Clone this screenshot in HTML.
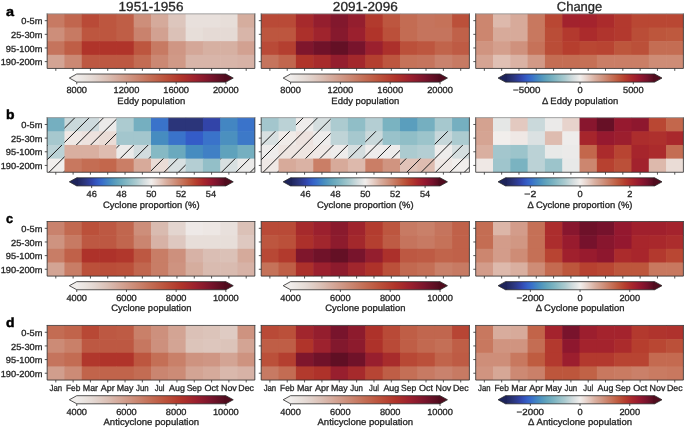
<!DOCTYPE html>
<html><head><meta charset="utf-8"><style>html,body{margin:0;padding:0;background:#fff;width:685px;height:428px;overflow:hidden}</style></head>
<body>
<svg width="685" height="428" viewBox="0 0 685 428" text-rendering="geometricPrecision" style="position:absolute;left:0;top:0;will-change:transform;font-family:'Liberation Sans',sans-serif">
<defs><linearGradient id="ga1" x1="76.74" x2="225.86" y1="0" y2="0" gradientUnits="userSpaceOnUse"><stop offset="0.000" stop-color="#f0edeb"/><stop offset="0.025" stop-color="#ede8e6"/><stop offset="0.050" stop-color="#eae4e0"/><stop offset="0.075" stop-color="#e8dfda"/><stop offset="0.100" stop-color="#e5dad5"/><stop offset="0.125" stop-color="#e2d4ce"/><stop offset="0.150" stop-color="#e0cec6"/><stop offset="0.175" stop-color="#dec7be"/><stop offset="0.200" stop-color="#dbc1b7"/><stop offset="0.225" stop-color="#d9baae"/><stop offset="0.250" stop-color="#d7b2a6"/><stop offset="0.275" stop-color="#d5ab9d"/><stop offset="0.300" stop-color="#d3a494"/><stop offset="0.325" stop-color="#d19d8c"/><stop offset="0.350" stop-color="#cf9684"/><stop offset="0.375" stop-color="#cd8f7b"/><stop offset="0.400" stop-color="#cb8873"/><stop offset="0.425" stop-color="#c9816b"/><stop offset="0.450" stop-color="#c77a63"/><stop offset="0.475" stop-color="#c5735b"/><stop offset="0.500" stop-color="#c36c53"/><stop offset="0.525" stop-color="#c1654d"/><stop offset="0.550" stop-color="#bf5e46"/><stop offset="0.575" stop-color="#bd5740"/><stop offset="0.600" stop-color="#bb503a"/><stop offset="0.625" stop-color="#b84936"/><stop offset="0.650" stop-color="#b64232"/><stop offset="0.675" stop-color="#b33b2e"/><stop offset="0.700" stop-color="#b0342a"/><stop offset="0.725" stop-color="#ab2f2b"/><stop offset="0.750" stop-color="#a62a2c"/><stop offset="0.775" stop-color="#a0252d"/><stop offset="0.800" stop-color="#9b202e"/><stop offset="0.825" stop-color="#921d2e"/><stop offset="0.850" stop-color="#8a1a2d"/><stop offset="0.875" stop-color="#81172c"/><stop offset="0.900" stop-color="#78142c"/><stop offset="0.925" stop-color="#6e1228"/><stop offset="0.950" stop-color="#641025"/><stop offset="0.975" stop-color="#5a0e22"/><stop offset="1.000" stop-color="#500c1e"/></linearGradient><linearGradient id="ga2" x1="290.56" x2="440.04" y1="0" y2="0" gradientUnits="userSpaceOnUse"><stop offset="0.000" stop-color="#f0edeb"/><stop offset="0.025" stop-color="#ede8e6"/><stop offset="0.050" stop-color="#eae4e0"/><stop offset="0.075" stop-color="#e8dfda"/><stop offset="0.100" stop-color="#e5dad5"/><stop offset="0.125" stop-color="#e2d4ce"/><stop offset="0.150" stop-color="#e0cec6"/><stop offset="0.175" stop-color="#dec7be"/><stop offset="0.200" stop-color="#dbc1b7"/><stop offset="0.225" stop-color="#d9baae"/><stop offset="0.250" stop-color="#d7b2a6"/><stop offset="0.275" stop-color="#d5ab9d"/><stop offset="0.300" stop-color="#d3a494"/><stop offset="0.325" stop-color="#d19d8c"/><stop offset="0.350" stop-color="#cf9684"/><stop offset="0.375" stop-color="#cd8f7b"/><stop offset="0.400" stop-color="#cb8873"/><stop offset="0.425" stop-color="#c9816b"/><stop offset="0.450" stop-color="#c77a63"/><stop offset="0.475" stop-color="#c5735b"/><stop offset="0.500" stop-color="#c36c53"/><stop offset="0.525" stop-color="#c1654d"/><stop offset="0.550" stop-color="#bf5e46"/><stop offset="0.575" stop-color="#bd5740"/><stop offset="0.600" stop-color="#bb503a"/><stop offset="0.625" stop-color="#b84936"/><stop offset="0.650" stop-color="#b64232"/><stop offset="0.675" stop-color="#b33b2e"/><stop offset="0.700" stop-color="#b0342a"/><stop offset="0.725" stop-color="#ab2f2b"/><stop offset="0.750" stop-color="#a62a2c"/><stop offset="0.775" stop-color="#a0252d"/><stop offset="0.800" stop-color="#9b202e"/><stop offset="0.825" stop-color="#921d2e"/><stop offset="0.850" stop-color="#8a1a2d"/><stop offset="0.875" stop-color="#81172c"/><stop offset="0.900" stop-color="#78142c"/><stop offset="0.925" stop-color="#6e1228"/><stop offset="0.950" stop-color="#641025"/><stop offset="0.975" stop-color="#5a0e22"/><stop offset="1.000" stop-color="#500c1e"/></linearGradient><linearGradient id="ga3" x1="505.49" x2="654.61" y1="0" y2="0" gradientUnits="userSpaceOnUse"><stop offset="0.000" stop-color="#1e245a"/><stop offset="0.025" stop-color="#242c6a"/><stop offset="0.050" stop-color="#2b357a"/><stop offset="0.075" stop-color="#2e3c91"/><stop offset="0.100" stop-color="#3244a8"/><stop offset="0.125" stop-color="#3353bc"/><stop offset="0.150" stop-color="#3662c8"/><stop offset="0.175" stop-color="#3970ca"/><stop offset="0.200" stop-color="#4080c5"/><stop offset="0.225" stop-color="#488ec0"/><stop offset="0.250" stop-color="#5599be"/><stop offset="0.275" stop-color="#62a4bc"/><stop offset="0.300" stop-color="#6facbf"/><stop offset="0.325" stop-color="#7db4c2"/><stop offset="0.350" stop-color="#8dbcc6"/><stop offset="0.375" stop-color="#9cc4cb"/><stop offset="0.400" stop-color="#accbd0"/><stop offset="0.425" stop-color="#bfd4d7"/><stop offset="0.450" stop-color="#d2dcde"/><stop offset="0.475" stop-color="#e1e5e5"/><stop offset="0.500" stop-color="#f1eeec"/><stop offset="0.525" stop-color="#ecdfda"/><stop offset="0.550" stop-color="#e6d0c8"/><stop offset="0.575" stop-color="#e0c0b4"/><stop offset="0.600" stop-color="#d9afa0"/><stop offset="0.625" stop-color="#d4a290"/><stop offset="0.650" stop-color="#d09480"/><stop offset="0.675" stop-color="#cc866f"/><stop offset="0.700" stop-color="#c8785f"/><stop offset="0.725" stop-color="#c46a50"/><stop offset="0.750" stop-color="#bf5c40"/><stop offset="0.775" stop-color="#ba4d37"/><stop offset="0.800" stop-color="#b63e2e"/><stop offset="0.825" stop-color="#af322d"/><stop offset="0.850" stop-color="#a8262c"/><stop offset="0.875" stop-color="#9e1f2e"/><stop offset="0.900" stop-color="#94182f"/><stop offset="0.925" stop-color="#85152e"/><stop offset="0.950" stop-color="#76122c"/><stop offset="0.975" stop-color="#630f25"/><stop offset="1.000" stop-color="#500c1e"/></linearGradient><clipPath id="clipb1"><rect x="64.46" y="117.65" width="17.32" height="13.66"/><rect x="81.77" y="117.65" width="17.32" height="13.66"/><rect x="99.07" y="117.65" width="17.32" height="13.66"/><rect x="64.46" y="131.30" width="17.32" height="13.66"/><rect x="81.77" y="131.30" width="17.32" height="13.66"/><rect x="99.07" y="131.30" width="17.32" height="13.66"/><rect x="47.15" y="144.95" width="17.32" height="13.66"/><rect x="116.38" y="144.95" width="17.32" height="13.66"/><rect x="133.69" y="144.95" width="17.32" height="13.66"/><rect x="47.15" y="158.60" width="17.32" height="13.66"/><rect x="151.00" y="158.60" width="17.32" height="13.66"/><rect x="168.31" y="158.60" width="17.32" height="13.66"/><rect x="220.23" y="158.60" width="17.32" height="13.66"/><rect x="237.54" y="158.60" width="17.32" height="13.66"/></clipPath><linearGradient id="gb1" x1="76.74" x2="225.86" y1="0" y2="0" gradientUnits="userSpaceOnUse"><stop offset="0.000" stop-color="#1e245a"/><stop offset="0.025" stop-color="#242c6a"/><stop offset="0.050" stop-color="#2b357a"/><stop offset="0.075" stop-color="#2e3c91"/><stop offset="0.100" stop-color="#3244a8"/><stop offset="0.125" stop-color="#3353bc"/><stop offset="0.150" stop-color="#3662c8"/><stop offset="0.175" stop-color="#3970ca"/><stop offset="0.200" stop-color="#4080c5"/><stop offset="0.225" stop-color="#488ec0"/><stop offset="0.250" stop-color="#5599be"/><stop offset="0.275" stop-color="#62a4bc"/><stop offset="0.300" stop-color="#6facbf"/><stop offset="0.325" stop-color="#7db4c2"/><stop offset="0.350" stop-color="#8dbcc6"/><stop offset="0.375" stop-color="#9cc4cb"/><stop offset="0.400" stop-color="#accbd0"/><stop offset="0.425" stop-color="#bfd4d7"/><stop offset="0.450" stop-color="#d2dcde"/><stop offset="0.475" stop-color="#e1e5e5"/><stop offset="0.500" stop-color="#f1eeec"/><stop offset="0.525" stop-color="#ecdfda"/><stop offset="0.550" stop-color="#e6d0c8"/><stop offset="0.575" stop-color="#e0c0b4"/><stop offset="0.600" stop-color="#d9afa0"/><stop offset="0.625" stop-color="#d4a290"/><stop offset="0.650" stop-color="#d09480"/><stop offset="0.675" stop-color="#cc866f"/><stop offset="0.700" stop-color="#c8785f"/><stop offset="0.725" stop-color="#c46a50"/><stop offset="0.750" stop-color="#bf5c40"/><stop offset="0.775" stop-color="#ba4d37"/><stop offset="0.800" stop-color="#b63e2e"/><stop offset="0.825" stop-color="#af322d"/><stop offset="0.850" stop-color="#a8262c"/><stop offset="0.875" stop-color="#9e1f2e"/><stop offset="0.900" stop-color="#94182f"/><stop offset="0.925" stop-color="#85152e"/><stop offset="0.950" stop-color="#76122c"/><stop offset="0.975" stop-color="#630f25"/><stop offset="1.000" stop-color="#500c1e"/></linearGradient><clipPath id="clipb2"><rect x="295.90" y="117.65" width="17.36" height="13.66"/><rect x="313.25" y="117.65" width="17.36" height="13.66"/><rect x="261.20" y="131.30" width="17.36" height="13.66"/><rect x="278.55" y="131.30" width="17.36" height="13.66"/><rect x="295.90" y="131.30" width="17.36" height="13.66"/><rect x="313.25" y="131.30" width="17.36" height="13.66"/><rect x="365.30" y="131.30" width="17.36" height="13.66"/><rect x="434.70" y="131.30" width="17.36" height="13.66"/><rect x="261.20" y="144.95" width="17.36" height="13.66"/><rect x="278.55" y="144.95" width="17.36" height="13.66"/><rect x="295.90" y="144.95" width="17.36" height="13.66"/><rect x="313.25" y="144.95" width="17.36" height="13.66"/><rect x="330.60" y="144.95" width="17.36" height="13.66"/><rect x="347.95" y="144.95" width="17.36" height="13.66"/><rect x="365.30" y="144.95" width="17.36" height="13.66"/><rect x="382.65" y="144.95" width="17.36" height="13.66"/><rect x="434.70" y="144.95" width="17.36" height="13.66"/><rect x="452.05" y="144.95" width="17.36" height="13.66"/><rect x="261.20" y="158.60" width="17.36" height="13.66"/><rect x="400.00" y="158.60" width="17.36" height="13.66"/><rect x="417.35" y="158.60" width="17.36" height="13.66"/><rect x="434.70" y="158.60" width="17.36" height="13.66"/><rect x="452.05" y="158.60" width="17.36" height="13.66"/></clipPath><linearGradient id="gb2" x1="290.56" x2="440.04" y1="0" y2="0" gradientUnits="userSpaceOnUse"><stop offset="0.000" stop-color="#1e245a"/><stop offset="0.025" stop-color="#242c6a"/><stop offset="0.050" stop-color="#2b357a"/><stop offset="0.075" stop-color="#2e3c91"/><stop offset="0.100" stop-color="#3244a8"/><stop offset="0.125" stop-color="#3353bc"/><stop offset="0.150" stop-color="#3662c8"/><stop offset="0.175" stop-color="#3970ca"/><stop offset="0.200" stop-color="#4080c5"/><stop offset="0.225" stop-color="#488ec0"/><stop offset="0.250" stop-color="#5599be"/><stop offset="0.275" stop-color="#62a4bc"/><stop offset="0.300" stop-color="#6facbf"/><stop offset="0.325" stop-color="#7db4c2"/><stop offset="0.350" stop-color="#8dbcc6"/><stop offset="0.375" stop-color="#9cc4cb"/><stop offset="0.400" stop-color="#accbd0"/><stop offset="0.425" stop-color="#bfd4d7"/><stop offset="0.450" stop-color="#d2dcde"/><stop offset="0.475" stop-color="#e1e5e5"/><stop offset="0.500" stop-color="#f1eeec"/><stop offset="0.525" stop-color="#ecdfda"/><stop offset="0.550" stop-color="#e6d0c8"/><stop offset="0.575" stop-color="#e0c0b4"/><stop offset="0.600" stop-color="#d9afa0"/><stop offset="0.625" stop-color="#d4a290"/><stop offset="0.650" stop-color="#d09480"/><stop offset="0.675" stop-color="#cc866f"/><stop offset="0.700" stop-color="#c8785f"/><stop offset="0.725" stop-color="#c46a50"/><stop offset="0.750" stop-color="#bf5c40"/><stop offset="0.775" stop-color="#ba4d37"/><stop offset="0.800" stop-color="#b63e2e"/><stop offset="0.825" stop-color="#af322d"/><stop offset="0.850" stop-color="#a8262c"/><stop offset="0.875" stop-color="#9e1f2e"/><stop offset="0.900" stop-color="#94182f"/><stop offset="0.925" stop-color="#85152e"/><stop offset="0.950" stop-color="#76122c"/><stop offset="0.975" stop-color="#630f25"/><stop offset="1.000" stop-color="#500c1e"/></linearGradient><linearGradient id="gb3" x1="505.49" x2="654.61" y1="0" y2="0" gradientUnits="userSpaceOnUse"><stop offset="0.000" stop-color="#1e245a"/><stop offset="0.025" stop-color="#242c6a"/><stop offset="0.050" stop-color="#2b357a"/><stop offset="0.075" stop-color="#2e3c91"/><stop offset="0.100" stop-color="#3244a8"/><stop offset="0.125" stop-color="#3353bc"/><stop offset="0.150" stop-color="#3662c8"/><stop offset="0.175" stop-color="#3970ca"/><stop offset="0.200" stop-color="#4080c5"/><stop offset="0.225" stop-color="#488ec0"/><stop offset="0.250" stop-color="#5599be"/><stop offset="0.275" stop-color="#62a4bc"/><stop offset="0.300" stop-color="#6facbf"/><stop offset="0.325" stop-color="#7db4c2"/><stop offset="0.350" stop-color="#8dbcc6"/><stop offset="0.375" stop-color="#9cc4cb"/><stop offset="0.400" stop-color="#accbd0"/><stop offset="0.425" stop-color="#bfd4d7"/><stop offset="0.450" stop-color="#d2dcde"/><stop offset="0.475" stop-color="#e1e5e5"/><stop offset="0.500" stop-color="#f1eeec"/><stop offset="0.525" stop-color="#ecdfda"/><stop offset="0.550" stop-color="#e6d0c8"/><stop offset="0.575" stop-color="#e0c0b4"/><stop offset="0.600" stop-color="#d9afa0"/><stop offset="0.625" stop-color="#d4a290"/><stop offset="0.650" stop-color="#d09480"/><stop offset="0.675" stop-color="#cc866f"/><stop offset="0.700" stop-color="#c8785f"/><stop offset="0.725" stop-color="#c46a50"/><stop offset="0.750" stop-color="#bf5c40"/><stop offset="0.775" stop-color="#ba4d37"/><stop offset="0.800" stop-color="#b63e2e"/><stop offset="0.825" stop-color="#af322d"/><stop offset="0.850" stop-color="#a8262c"/><stop offset="0.875" stop-color="#9e1f2e"/><stop offset="0.900" stop-color="#94182f"/><stop offset="0.925" stop-color="#85152e"/><stop offset="0.950" stop-color="#76122c"/><stop offset="0.975" stop-color="#630f25"/><stop offset="1.000" stop-color="#500c1e"/></linearGradient><linearGradient id="gc1" x1="76.74" x2="225.86" y1="0" y2="0" gradientUnits="userSpaceOnUse"><stop offset="0.000" stop-color="#f0edeb"/><stop offset="0.025" stop-color="#ede8e6"/><stop offset="0.050" stop-color="#eae4e0"/><stop offset="0.075" stop-color="#e8dfda"/><stop offset="0.100" stop-color="#e5dad5"/><stop offset="0.125" stop-color="#e2d4ce"/><stop offset="0.150" stop-color="#e0cec6"/><stop offset="0.175" stop-color="#dec7be"/><stop offset="0.200" stop-color="#dbc1b7"/><stop offset="0.225" stop-color="#d9baae"/><stop offset="0.250" stop-color="#d7b2a6"/><stop offset="0.275" stop-color="#d5ab9d"/><stop offset="0.300" stop-color="#d3a494"/><stop offset="0.325" stop-color="#d19d8c"/><stop offset="0.350" stop-color="#cf9684"/><stop offset="0.375" stop-color="#cd8f7b"/><stop offset="0.400" stop-color="#cb8873"/><stop offset="0.425" stop-color="#c9816b"/><stop offset="0.450" stop-color="#c77a63"/><stop offset="0.475" stop-color="#c5735b"/><stop offset="0.500" stop-color="#c36c53"/><stop offset="0.525" stop-color="#c1654d"/><stop offset="0.550" stop-color="#bf5e46"/><stop offset="0.575" stop-color="#bd5740"/><stop offset="0.600" stop-color="#bb503a"/><stop offset="0.625" stop-color="#b84936"/><stop offset="0.650" stop-color="#b64232"/><stop offset="0.675" stop-color="#b33b2e"/><stop offset="0.700" stop-color="#b0342a"/><stop offset="0.725" stop-color="#ab2f2b"/><stop offset="0.750" stop-color="#a62a2c"/><stop offset="0.775" stop-color="#a0252d"/><stop offset="0.800" stop-color="#9b202e"/><stop offset="0.825" stop-color="#921d2e"/><stop offset="0.850" stop-color="#8a1a2d"/><stop offset="0.875" stop-color="#81172c"/><stop offset="0.900" stop-color="#78142c"/><stop offset="0.925" stop-color="#6e1228"/><stop offset="0.950" stop-color="#641025"/><stop offset="0.975" stop-color="#5a0e22"/><stop offset="1.000" stop-color="#500c1e"/></linearGradient><linearGradient id="gc2" x1="290.56" x2="440.04" y1="0" y2="0" gradientUnits="userSpaceOnUse"><stop offset="0.000" stop-color="#f0edeb"/><stop offset="0.025" stop-color="#ede8e6"/><stop offset="0.050" stop-color="#eae4e0"/><stop offset="0.075" stop-color="#e8dfda"/><stop offset="0.100" stop-color="#e5dad5"/><stop offset="0.125" stop-color="#e2d4ce"/><stop offset="0.150" stop-color="#e0cec6"/><stop offset="0.175" stop-color="#dec7be"/><stop offset="0.200" stop-color="#dbc1b7"/><stop offset="0.225" stop-color="#d9baae"/><stop offset="0.250" stop-color="#d7b2a6"/><stop offset="0.275" stop-color="#d5ab9d"/><stop offset="0.300" stop-color="#d3a494"/><stop offset="0.325" stop-color="#d19d8c"/><stop offset="0.350" stop-color="#cf9684"/><stop offset="0.375" stop-color="#cd8f7b"/><stop offset="0.400" stop-color="#cb8873"/><stop offset="0.425" stop-color="#c9816b"/><stop offset="0.450" stop-color="#c77a63"/><stop offset="0.475" stop-color="#c5735b"/><stop offset="0.500" stop-color="#c36c53"/><stop offset="0.525" stop-color="#c1654d"/><stop offset="0.550" stop-color="#bf5e46"/><stop offset="0.575" stop-color="#bd5740"/><stop offset="0.600" stop-color="#bb503a"/><stop offset="0.625" stop-color="#b84936"/><stop offset="0.650" stop-color="#b64232"/><stop offset="0.675" stop-color="#b33b2e"/><stop offset="0.700" stop-color="#b0342a"/><stop offset="0.725" stop-color="#ab2f2b"/><stop offset="0.750" stop-color="#a62a2c"/><stop offset="0.775" stop-color="#a0252d"/><stop offset="0.800" stop-color="#9b202e"/><stop offset="0.825" stop-color="#921d2e"/><stop offset="0.850" stop-color="#8a1a2d"/><stop offset="0.875" stop-color="#81172c"/><stop offset="0.900" stop-color="#78142c"/><stop offset="0.925" stop-color="#6e1228"/><stop offset="0.950" stop-color="#641025"/><stop offset="0.975" stop-color="#5a0e22"/><stop offset="1.000" stop-color="#500c1e"/></linearGradient><linearGradient id="gc3" x1="505.49" x2="654.61" y1="0" y2="0" gradientUnits="userSpaceOnUse"><stop offset="0.000" stop-color="#1e245a"/><stop offset="0.025" stop-color="#242c6a"/><stop offset="0.050" stop-color="#2b357a"/><stop offset="0.075" stop-color="#2e3c91"/><stop offset="0.100" stop-color="#3244a8"/><stop offset="0.125" stop-color="#3353bc"/><stop offset="0.150" stop-color="#3662c8"/><stop offset="0.175" stop-color="#3970ca"/><stop offset="0.200" stop-color="#4080c5"/><stop offset="0.225" stop-color="#488ec0"/><stop offset="0.250" stop-color="#5599be"/><stop offset="0.275" stop-color="#62a4bc"/><stop offset="0.300" stop-color="#6facbf"/><stop offset="0.325" stop-color="#7db4c2"/><stop offset="0.350" stop-color="#8dbcc6"/><stop offset="0.375" stop-color="#9cc4cb"/><stop offset="0.400" stop-color="#accbd0"/><stop offset="0.425" stop-color="#bfd4d7"/><stop offset="0.450" stop-color="#d2dcde"/><stop offset="0.475" stop-color="#e1e5e5"/><stop offset="0.500" stop-color="#f1eeec"/><stop offset="0.525" stop-color="#ecdfda"/><stop offset="0.550" stop-color="#e6d0c8"/><stop offset="0.575" stop-color="#e0c0b4"/><stop offset="0.600" stop-color="#d9afa0"/><stop offset="0.625" stop-color="#d4a290"/><stop offset="0.650" stop-color="#d09480"/><stop offset="0.675" stop-color="#cc866f"/><stop offset="0.700" stop-color="#c8785f"/><stop offset="0.725" stop-color="#c46a50"/><stop offset="0.750" stop-color="#bf5c40"/><stop offset="0.775" stop-color="#ba4d37"/><stop offset="0.800" stop-color="#b63e2e"/><stop offset="0.825" stop-color="#af322d"/><stop offset="0.850" stop-color="#a8262c"/><stop offset="0.875" stop-color="#9e1f2e"/><stop offset="0.900" stop-color="#94182f"/><stop offset="0.925" stop-color="#85152e"/><stop offset="0.950" stop-color="#76122c"/><stop offset="0.975" stop-color="#630f25"/><stop offset="1.000" stop-color="#500c1e"/></linearGradient><linearGradient id="gd1" x1="76.74" x2="225.86" y1="0" y2="0" gradientUnits="userSpaceOnUse"><stop offset="0.000" stop-color="#f0edeb"/><stop offset="0.025" stop-color="#ede8e6"/><stop offset="0.050" stop-color="#eae4e0"/><stop offset="0.075" stop-color="#e8dfda"/><stop offset="0.100" stop-color="#e5dad5"/><stop offset="0.125" stop-color="#e2d4ce"/><stop offset="0.150" stop-color="#e0cec6"/><stop offset="0.175" stop-color="#dec7be"/><stop offset="0.200" stop-color="#dbc1b7"/><stop offset="0.225" stop-color="#d9baae"/><stop offset="0.250" stop-color="#d7b2a6"/><stop offset="0.275" stop-color="#d5ab9d"/><stop offset="0.300" stop-color="#d3a494"/><stop offset="0.325" stop-color="#d19d8c"/><stop offset="0.350" stop-color="#cf9684"/><stop offset="0.375" stop-color="#cd8f7b"/><stop offset="0.400" stop-color="#cb8873"/><stop offset="0.425" stop-color="#c9816b"/><stop offset="0.450" stop-color="#c77a63"/><stop offset="0.475" stop-color="#c5735b"/><stop offset="0.500" stop-color="#c36c53"/><stop offset="0.525" stop-color="#c1654d"/><stop offset="0.550" stop-color="#bf5e46"/><stop offset="0.575" stop-color="#bd5740"/><stop offset="0.600" stop-color="#bb503a"/><stop offset="0.625" stop-color="#b84936"/><stop offset="0.650" stop-color="#b64232"/><stop offset="0.675" stop-color="#b33b2e"/><stop offset="0.700" stop-color="#b0342a"/><stop offset="0.725" stop-color="#ab2f2b"/><stop offset="0.750" stop-color="#a62a2c"/><stop offset="0.775" stop-color="#a0252d"/><stop offset="0.800" stop-color="#9b202e"/><stop offset="0.825" stop-color="#921d2e"/><stop offset="0.850" stop-color="#8a1a2d"/><stop offset="0.875" stop-color="#81172c"/><stop offset="0.900" stop-color="#78142c"/><stop offset="0.925" stop-color="#6e1228"/><stop offset="0.950" stop-color="#641025"/><stop offset="0.975" stop-color="#5a0e22"/><stop offset="1.000" stop-color="#500c1e"/></linearGradient><linearGradient id="gd2" x1="290.56" x2="440.04" y1="0" y2="0" gradientUnits="userSpaceOnUse"><stop offset="0.000" stop-color="#f0edeb"/><stop offset="0.025" stop-color="#ede8e6"/><stop offset="0.050" stop-color="#eae4e0"/><stop offset="0.075" stop-color="#e8dfda"/><stop offset="0.100" stop-color="#e5dad5"/><stop offset="0.125" stop-color="#e2d4ce"/><stop offset="0.150" stop-color="#e0cec6"/><stop offset="0.175" stop-color="#dec7be"/><stop offset="0.200" stop-color="#dbc1b7"/><stop offset="0.225" stop-color="#d9baae"/><stop offset="0.250" stop-color="#d7b2a6"/><stop offset="0.275" stop-color="#d5ab9d"/><stop offset="0.300" stop-color="#d3a494"/><stop offset="0.325" stop-color="#d19d8c"/><stop offset="0.350" stop-color="#cf9684"/><stop offset="0.375" stop-color="#cd8f7b"/><stop offset="0.400" stop-color="#cb8873"/><stop offset="0.425" stop-color="#c9816b"/><stop offset="0.450" stop-color="#c77a63"/><stop offset="0.475" stop-color="#c5735b"/><stop offset="0.500" stop-color="#c36c53"/><stop offset="0.525" stop-color="#c1654d"/><stop offset="0.550" stop-color="#bf5e46"/><stop offset="0.575" stop-color="#bd5740"/><stop offset="0.600" stop-color="#bb503a"/><stop offset="0.625" stop-color="#b84936"/><stop offset="0.650" stop-color="#b64232"/><stop offset="0.675" stop-color="#b33b2e"/><stop offset="0.700" stop-color="#b0342a"/><stop offset="0.725" stop-color="#ab2f2b"/><stop offset="0.750" stop-color="#a62a2c"/><stop offset="0.775" stop-color="#a0252d"/><stop offset="0.800" stop-color="#9b202e"/><stop offset="0.825" stop-color="#921d2e"/><stop offset="0.850" stop-color="#8a1a2d"/><stop offset="0.875" stop-color="#81172c"/><stop offset="0.900" stop-color="#78142c"/><stop offset="0.925" stop-color="#6e1228"/><stop offset="0.950" stop-color="#641025"/><stop offset="0.975" stop-color="#5a0e22"/><stop offset="1.000" stop-color="#500c1e"/></linearGradient><linearGradient id="gd3" x1="505.49" x2="654.61" y1="0" y2="0" gradientUnits="userSpaceOnUse"><stop offset="0.000" stop-color="#1e245a"/><stop offset="0.025" stop-color="#242c6a"/><stop offset="0.050" stop-color="#2b357a"/><stop offset="0.075" stop-color="#2e3c91"/><stop offset="0.100" stop-color="#3244a8"/><stop offset="0.125" stop-color="#3353bc"/><stop offset="0.150" stop-color="#3662c8"/><stop offset="0.175" stop-color="#3970ca"/><stop offset="0.200" stop-color="#4080c5"/><stop offset="0.225" stop-color="#488ec0"/><stop offset="0.250" stop-color="#5599be"/><stop offset="0.275" stop-color="#62a4bc"/><stop offset="0.300" stop-color="#6facbf"/><stop offset="0.325" stop-color="#7db4c2"/><stop offset="0.350" stop-color="#8dbcc6"/><stop offset="0.375" stop-color="#9cc4cb"/><stop offset="0.400" stop-color="#accbd0"/><stop offset="0.425" stop-color="#bfd4d7"/><stop offset="0.450" stop-color="#d2dcde"/><stop offset="0.475" stop-color="#e1e5e5"/><stop offset="0.500" stop-color="#f1eeec"/><stop offset="0.525" stop-color="#ecdfda"/><stop offset="0.550" stop-color="#e6d0c8"/><stop offset="0.575" stop-color="#e0c0b4"/><stop offset="0.600" stop-color="#d9afa0"/><stop offset="0.625" stop-color="#d4a290"/><stop offset="0.650" stop-color="#d09480"/><stop offset="0.675" stop-color="#cc866f"/><stop offset="0.700" stop-color="#c8785f"/><stop offset="0.725" stop-color="#c46a50"/><stop offset="0.750" stop-color="#bf5c40"/><stop offset="0.775" stop-color="#ba4d37"/><stop offset="0.800" stop-color="#b63e2e"/><stop offset="0.825" stop-color="#af322d"/><stop offset="0.850" stop-color="#a8262c"/><stop offset="0.875" stop-color="#9e1f2e"/><stop offset="0.900" stop-color="#94182f"/><stop offset="0.925" stop-color="#85152e"/><stop offset="0.950" stop-color="#76122c"/><stop offset="0.975" stop-color="#630f25"/><stop offset="1.000" stop-color="#500c1e"/></linearGradient></defs>
<rect width="685" height="428" fill="#fff"/>
<rect x="47.15" y="13.85" width="17.91" height="14.25" fill="#c77a63"/>
<rect x="64.46" y="13.85" width="17.91" height="14.25" fill="#c1664e"/>
<rect x="81.77" y="13.85" width="17.91" height="14.25" fill="#b94a37"/>
<rect x="99.07" y="13.85" width="17.91" height="14.25" fill="#bd563f"/>
<rect x="116.38" y="13.85" width="17.91" height="14.25" fill="#bf5e46"/>
<rect x="133.69" y="13.85" width="17.91" height="14.25" fill="#cd8e7a"/>
<rect x="151.00" y="13.85" width="17.91" height="14.25" fill="#d5aa9b"/>
<rect x="168.31" y="13.85" width="17.91" height="14.25" fill="#ddc6bd"/>
<rect x="185.62" y="13.85" width="17.91" height="14.25" fill="#e8e0dc"/>
<rect x="202.93" y="13.85" width="17.91" height="14.25" fill="#e8e0dc"/>
<rect x="220.23" y="13.85" width="17.91" height="14.25" fill="#e7ded9"/>
<rect x="237.54" y="13.85" width="17.31" height="14.25" fill="#d5ad9e"/>
<rect x="47.15" y="27.50" width="17.91" height="14.25" fill="#cd8e7a"/>
<rect x="64.46" y="27.50" width="17.91" height="14.25" fill="#c77a63"/>
<rect x="81.77" y="27.50" width="17.91" height="14.25" fill="#bd563f"/>
<rect x="99.07" y="27.50" width="17.91" height="14.25" fill="#bd563f"/>
<rect x="116.38" y="27.50" width="17.91" height="14.25" fill="#bf5e46"/>
<rect x="133.69" y="27.50" width="17.91" height="14.25" fill="#c9826d"/>
<rect x="151.00" y="27.50" width="17.91" height="14.25" fill="#d2a191"/>
<rect x="168.31" y="27.50" width="17.91" height="14.25" fill="#dbc1b7"/>
<rect x="185.62" y="27.50" width="17.91" height="14.25" fill="#e7ded9"/>
<rect x="202.93" y="27.50" width="17.91" height="14.25" fill="#e5dad5"/>
<rect x="220.23" y="27.50" width="17.91" height="14.25" fill="#e5dad5"/>
<rect x="237.54" y="27.50" width="17.31" height="14.25" fill="#d8b5a9"/>
<rect x="47.15" y="41.15" width="17.91" height="14.25" fill="#c5745d"/>
<rect x="64.46" y="41.15" width="17.91" height="14.25" fill="#bf5e46"/>
<rect x="81.77" y="41.15" width="17.91" height="14.25" fill="#b0342a"/>
<rect x="99.07" y="41.15" width="17.91" height="14.25" fill="#b0342a"/>
<rect x="116.38" y="41.15" width="17.91" height="14.25" fill="#b0342a"/>
<rect x="133.69" y="41.15" width="17.91" height="14.25" fill="#bd563f"/>
<rect x="151.00" y="41.15" width="17.91" height="14.25" fill="#c77a63"/>
<rect x="168.31" y="41.15" width="17.91" height="14.25" fill="#cf9684"/>
<rect x="185.62" y="41.15" width="17.91" height="14.25" fill="#d4a798"/>
<rect x="202.93" y="41.15" width="17.91" height="14.25" fill="#d6b0a2"/>
<rect x="220.23" y="41.15" width="17.91" height="14.25" fill="#d6b0a2"/>
<rect x="237.54" y="41.15" width="17.31" height="14.25" fill="#d2a191"/>
<rect x="47.15" y="54.80" width="17.91" height="13.65" fill="#d3a494"/>
<rect x="64.46" y="54.80" width="17.91" height="13.65" fill="#cb8873"/>
<rect x="81.77" y="54.80" width="17.91" height="13.65" fill="#bd5842"/>
<rect x="99.07" y="54.80" width="17.91" height="13.65" fill="#bd5842"/>
<rect x="116.38" y="54.80" width="17.91" height="13.65" fill="#bd5842"/>
<rect x="133.69" y="54.80" width="17.91" height="13.65" fill="#c36c53"/>
<rect x="151.00" y="54.80" width="17.91" height="13.65" fill="#cb8873"/>
<rect x="168.31" y="54.80" width="17.91" height="13.65" fill="#d09987"/>
<rect x="185.62" y="54.80" width="17.91" height="13.65" fill="#d8b5a9"/>
<rect x="202.93" y="54.80" width="17.91" height="13.65" fill="#d8b5a9"/>
<rect x="220.23" y="54.80" width="17.91" height="13.65" fill="#d8b5a9"/>
<rect x="237.54" y="54.80" width="17.31" height="13.65" fill="#d7b2a6"/>
<path d="M47.15,13.45V68.45H254.85V13.45" fill="none" stroke="#2a2a2a" stroke-width="0.8"/>
<path d="M46.75,13.85H255.25" fill="none" stroke="#8c8c8c" stroke-width="0.8"/>
<path d="M44.75,20.68H47.15M44.75,34.33H47.15M44.75,47.98H47.15M44.75,61.62H47.15M55.80,68.45V70.85M73.11,68.45V70.85M90.42,68.45V70.85M107.73,68.45V70.85M125.04,68.45V70.85M142.35,68.45V70.85M159.65,68.45V70.85M176.96,68.45V70.85M194.27,68.45V70.85M211.58,68.45V70.85M228.89,68.45V70.85M246.20,68.45V70.85" stroke="#2a2a2a" stroke-width="0.8" fill="none"/>
<text x="42.45" y="24.38" font-size="8.91" text-anchor="end" textLength="21.12" lengthAdjust="spacingAndGlyphs" fill="#262626" stroke="#262626" stroke-width="0.3">0-5m</text>
<text x="42.45" y="38.03" font-size="8.91" text-anchor="end" textLength="31.43" lengthAdjust="spacingAndGlyphs" fill="#262626" stroke="#262626" stroke-width="0.3">25-30m</text>
<text x="42.45" y="51.68" font-size="8.91" text-anchor="end" textLength="36.58" lengthAdjust="spacingAndGlyphs" fill="#262626" stroke="#262626" stroke-width="0.3">95-100m</text>
<text x="42.45" y="65.33" font-size="8.91" text-anchor="end" textLength="41.74" lengthAdjust="spacingAndGlyphs" fill="#262626" stroke="#262626" stroke-width="0.3">190-200m</text>
<rect x="76.74" y="74.00" width="149.13" height="8.10" fill="url(#ga1)"/>
<path d="M77.94,74.00L76.74,74.00L69.34,78.05L76.74,82.10L77.94,82.10Z" fill="#f0edeb"/>
<path d="M224.66,74.00L225.86,74.00L233.26,78.05L225.86,82.10L224.66,82.10Z" fill="#500c1e"/>
<path d="M76.74,74.00L69.34,78.05L76.74,82.10L225.86,82.10L233.26,78.05L225.86,74.00Z" fill="none" stroke="#2a2a2a" stroke-width="0.8"/>
<text x="76.74" y="93.40" font-size="8.91" text-anchor="middle" textLength="20.61" lengthAdjust="spacingAndGlyphs" fill="#262626" stroke="#262626" stroke-width="0.3">8000</text>
<text x="126.45" y="93.40" font-size="8.91" text-anchor="middle" textLength="25.77" lengthAdjust="spacingAndGlyphs" fill="#262626" stroke="#262626" stroke-width="0.3">12000</text>
<text x="176.15" y="93.40" font-size="8.91" text-anchor="middle" textLength="25.77" lengthAdjust="spacingAndGlyphs" fill="#262626" stroke="#262626" stroke-width="0.3">16000</text>
<text x="225.86" y="93.40" font-size="8.91" text-anchor="middle" textLength="25.77" lengthAdjust="spacingAndGlyphs" fill="#262626" stroke="#262626" stroke-width="0.3">20000</text>
<path d="M76.74,82.10V84.30M126.45,82.10V84.30M176.15,82.10V84.30M225.86,82.10V84.30" stroke="#2a2a2a" stroke-width="0.8" fill="none"/>
<text x="151.30" y="103.70" font-size="9.19" text-anchor="middle" textLength="67.91" lengthAdjust="spacingAndGlyphs" fill="#262626" stroke="#262626" stroke-width="0.3">Eddy population</text>
<rect x="261.20" y="13.85" width="17.95" height="14.25" fill="#b94a37"/>
<rect x="278.55" y="13.85" width="17.95" height="14.25" fill="#b94a37"/>
<rect x="295.90" y="13.85" width="17.95" height="14.25" fill="#a62a2c"/>
<rect x="313.25" y="13.85" width="17.95" height="14.25" fill="#941e2e"/>
<rect x="330.60" y="13.85" width="17.95" height="14.25" fill="#82182d"/>
<rect x="347.95" y="13.85" width="17.95" height="14.25" fill="#941e2e"/>
<rect x="365.30" y="13.85" width="17.95" height="14.25" fill="#b23a2d"/>
<rect x="382.65" y="13.85" width="17.95" height="14.25" fill="#bd563f"/>
<rect x="400.00" y="13.85" width="17.95" height="14.25" fill="#c36c53"/>
<rect x="417.35" y="13.85" width="17.95" height="14.25" fill="#c5745d"/>
<rect x="434.70" y="13.85" width="17.95" height="14.25" fill="#c57259"/>
<rect x="452.05" y="13.85" width="17.35" height="14.25" fill="#bb503a"/>
<rect x="261.20" y="27.50" width="17.95" height="14.25" fill="#bd563f"/>
<rect x="278.55" y="27.50" width="17.95" height="14.25" fill="#bd563f"/>
<rect x="295.90" y="27.50" width="17.95" height="14.25" fill="#ac302b"/>
<rect x="313.25" y="27.50" width="17.95" height="14.25" fill="#9f242d"/>
<rect x="330.60" y="27.50" width="17.95" height="14.25" fill="#86192d"/>
<rect x="347.95" y="27.50" width="17.95" height="14.25" fill="#9b202e"/>
<rect x="365.30" y="27.50" width="17.95" height="14.25" fill="#b0342a"/>
<rect x="382.65" y="27.50" width="17.95" height="14.25" fill="#bb503a"/>
<rect x="400.00" y="27.50" width="17.95" height="14.25" fill="#c36c53"/>
<rect x="417.35" y="27.50" width="17.95" height="14.25" fill="#c5745d"/>
<rect x="434.70" y="27.50" width="17.95" height="14.25" fill="#c5745d"/>
<rect x="452.05" y="27.50" width="17.35" height="14.25" fill="#c06149"/>
<rect x="261.20" y="41.15" width="17.95" height="14.25" fill="#b94a37"/>
<rect x="278.55" y="41.15" width="17.95" height="14.25" fill="#b43f30"/>
<rect x="295.90" y="41.15" width="17.95" height="14.25" fill="#7f162c"/>
<rect x="313.25" y="41.15" width="17.95" height="14.25" fill="#701229"/>
<rect x="330.60" y="41.15" width="17.95" height="14.25" fill="#641025"/>
<rect x="347.95" y="41.15" width="17.95" height="14.25" fill="#78142c"/>
<rect x="365.30" y="41.15" width="17.95" height="14.25" fill="#9b202e"/>
<rect x="382.65" y="41.15" width="17.95" height="14.25" fill="#ac302b"/>
<rect x="400.00" y="41.15" width="17.95" height="14.25" fill="#bb503a"/>
<rect x="417.35" y="41.15" width="17.95" height="14.25" fill="#bd563f"/>
<rect x="434.70" y="41.15" width="17.95" height="14.25" fill="#c1644b"/>
<rect x="452.05" y="41.15" width="17.35" height="14.25" fill="#be5b44"/>
<rect x="261.20" y="54.80" width="17.95" height="13.65" fill="#c5745d"/>
<rect x="278.55" y="54.80" width="17.95" height="13.65" fill="#c1664e"/>
<rect x="295.90" y="54.80" width="17.95" height="13.65" fill="#b0342a"/>
<rect x="313.25" y="54.80" width="17.95" height="13.65" fill="#a82c2c"/>
<rect x="330.60" y="54.80" width="17.95" height="13.65" fill="#941e2e"/>
<rect x="347.95" y="54.80" width="17.95" height="13.65" fill="#a3282c"/>
<rect x="365.30" y="54.80" width="17.95" height="13.65" fill="#b43f30"/>
<rect x="382.65" y="54.80" width="17.95" height="13.65" fill="#bd563f"/>
<rect x="400.00" y="54.80" width="17.95" height="13.65" fill="#c57259"/>
<rect x="417.35" y="54.80" width="17.95" height="13.65" fill="#c5745d"/>
<rect x="434.70" y="54.80" width="17.95" height="13.65" fill="#c9826d"/>
<rect x="452.05" y="54.80" width="17.35" height="13.65" fill="#c77a63"/>
<path d="M261.20,13.45V68.45H469.40V13.45" fill="none" stroke="#2a2a2a" stroke-width="0.8"/>
<path d="M260.80,13.85H469.80" fill="none" stroke="#8c8c8c" stroke-width="0.8"/>
<path d="M258.80,20.68H261.20M258.80,34.33H261.20M258.80,47.98H261.20M258.80,61.62H261.20M269.88,68.45V70.85M287.22,68.45V70.85M304.57,68.45V70.85M321.92,68.45V70.85M339.27,68.45V70.85M356.62,68.45V70.85M373.97,68.45V70.85M391.32,68.45V70.85M408.67,68.45V70.85M426.02,68.45V70.85M443.38,68.45V70.85M460.72,68.45V70.85" stroke="#2a2a2a" stroke-width="0.8" fill="none"/>
<rect x="290.56" y="74.00" width="149.49" height="8.10" fill="url(#ga2)"/>
<path d="M291.76,74.00L290.56,74.00L283.16,78.05L290.56,82.10L291.76,82.10Z" fill="#f0edeb"/>
<path d="M438.84,74.00L440.04,74.00L447.44,78.05L440.04,82.10L438.84,82.10Z" fill="#500c1e"/>
<path d="M290.56,74.00L283.16,78.05L290.56,82.10L440.04,82.10L447.44,78.05L440.04,74.00Z" fill="none" stroke="#2a2a2a" stroke-width="0.8"/>
<text x="290.56" y="93.40" font-size="8.91" text-anchor="middle" textLength="20.61" lengthAdjust="spacingAndGlyphs" fill="#262626" stroke="#262626" stroke-width="0.3">8000</text>
<text x="340.39" y="93.40" font-size="8.91" text-anchor="middle" textLength="25.77" lengthAdjust="spacingAndGlyphs" fill="#262626" stroke="#262626" stroke-width="0.3">12000</text>
<text x="390.21" y="93.40" font-size="8.91" text-anchor="middle" textLength="25.77" lengthAdjust="spacingAndGlyphs" fill="#262626" stroke="#262626" stroke-width="0.3">16000</text>
<text x="440.04" y="93.40" font-size="8.91" text-anchor="middle" textLength="25.77" lengthAdjust="spacingAndGlyphs" fill="#262626" stroke="#262626" stroke-width="0.3">20000</text>
<path d="M290.56,82.10V84.30M340.39,82.10V84.30M390.21,82.10V84.30M440.04,82.10V84.30" stroke="#2a2a2a" stroke-width="0.8" fill="none"/>
<text x="365.30" y="103.70" font-size="9.19" text-anchor="middle" textLength="67.91" lengthAdjust="spacingAndGlyphs" fill="#262626" stroke="#262626" stroke-width="0.3">Eddy population</text>
<rect x="475.70" y="13.85" width="17.91" height="14.25" fill="#cc866f"/>
<rect x="493.01" y="13.85" width="17.91" height="14.25" fill="#ddb9ac"/>
<rect x="510.32" y="13.85" width="17.91" height="14.25" fill="#d7aa9a"/>
<rect x="527.62" y="13.85" width="17.91" height="14.25" fill="#c8785f"/>
<rect x="544.93" y="13.85" width="17.91" height="14.25" fill="#b94733"/>
<rect x="562.24" y="13.85" width="17.91" height="14.25" fill="#a2222d"/>
<rect x="579.55" y="13.85" width="17.91" height="14.25" fill="#a4232d"/>
<rect x="596.86" y="13.85" width="17.91" height="14.25" fill="#ab2b2c"/>
<rect x="614.17" y="13.85" width="17.91" height="14.25" fill="#b3392e"/>
<rect x="631.48" y="13.85" width="17.91" height="14.25" fill="#b94733"/>
<rect x="648.78" y="13.85" width="17.91" height="14.25" fill="#b94733"/>
<rect x="666.09" y="13.85" width="17.31" height="14.25" fill="#b94733"/>
<rect x="475.70" y="27.50" width="17.91" height="14.25" fill="#cc866f"/>
<rect x="493.01" y="27.50" width="17.91" height="14.25" fill="#d7aa9a"/>
<rect x="510.32" y="27.50" width="17.91" height="14.25" fill="#d7aa9a"/>
<rect x="527.62" y="27.50" width="17.91" height="14.25" fill="#c8785f"/>
<rect x="544.93" y="27.50" width="17.91" height="14.25" fill="#ba4d37"/>
<rect x="562.24" y="27.50" width="17.91" height="14.25" fill="#b3392e"/>
<rect x="579.55" y="27.50" width="17.91" height="14.25" fill="#ab2b2c"/>
<rect x="596.86" y="27.50" width="17.91" height="14.25" fill="#b0342d"/>
<rect x="614.17" y="27.50" width="17.91" height="14.25" fill="#b3392e"/>
<rect x="631.48" y="27.50" width="17.91" height="14.25" fill="#ba4d37"/>
<rect x="648.78" y="27.50" width="17.91" height="14.25" fill="#bd563c"/>
<rect x="666.09" y="27.50" width="17.31" height="14.25" fill="#be593e"/>
<rect x="475.70" y="41.15" width="17.91" height="14.25" fill="#d09480"/>
<rect x="493.01" y="41.15" width="17.91" height="14.25" fill="#d49f8d"/>
<rect x="510.32" y="41.15" width="17.91" height="14.25" fill="#cf917d"/>
<rect x="527.62" y="41.15" width="17.91" height="14.25" fill="#c67259"/>
<rect x="544.93" y="41.15" width="17.91" height="14.25" fill="#ba4d37"/>
<rect x="562.24" y="41.15" width="17.91" height="14.25" fill="#b63e2e"/>
<rect x="579.55" y="41.15" width="17.91" height="14.25" fill="#b94733"/>
<rect x="596.86" y="41.15" width="17.91" height="14.25" fill="#b84432"/>
<rect x="614.17" y="41.15" width="17.91" height="14.25" fill="#bd563c"/>
<rect x="631.48" y="41.15" width="17.91" height="14.25" fill="#bb5039"/>
<rect x="648.78" y="41.15" width="17.91" height="14.25" fill="#c46d53"/>
<rect x="666.09" y="41.15" width="17.31" height="14.25" fill="#c46d53"/>
<rect x="475.70" y="54.80" width="17.91" height="13.65" fill="#d5a493"/>
<rect x="493.01" y="54.80" width="17.91" height="13.65" fill="#e0c0b4"/>
<rect x="510.32" y="54.80" width="17.91" height="13.65" fill="#dab2a4"/>
<rect x="527.62" y="54.80" width="17.91" height="13.65" fill="#d29986"/>
<rect x="544.93" y="54.80" width="17.91" height="13.65" fill="#c46d53"/>
<rect x="562.24" y="54.80" width="17.91" height="13.65" fill="#c46d53"/>
<rect x="579.55" y="54.80" width="17.91" height="13.65" fill="#c57056"/>
<rect x="596.86" y="54.80" width="17.91" height="13.65" fill="#ca7e66"/>
<rect x="614.17" y="54.80" width="17.91" height="13.65" fill="#ca7e66"/>
<rect x="631.48" y="54.80" width="17.91" height="13.65" fill="#ca7e66"/>
<rect x="648.78" y="54.80" width="17.91" height="13.65" fill="#ce8c76"/>
<rect x="666.09" y="54.80" width="17.31" height="13.65" fill="#ce8c76"/>
<path d="M475.70,13.45V68.45H683.40V13.45" fill="none" stroke="#2a2a2a" stroke-width="0.8"/>
<path d="M475.30,13.85H683.80" fill="none" stroke="#8c8c8c" stroke-width="0.8"/>
<path d="M473.30,20.68H475.70M473.30,34.33H475.70M473.30,47.98H475.70M473.30,61.62H475.70M484.35,68.45V70.85M501.66,68.45V70.85M518.97,68.45V70.85M536.28,68.45V70.85M553.59,68.45V70.85M570.90,68.45V70.85M588.20,68.45V70.85M605.51,68.45V70.85M622.82,68.45V70.85M640.13,68.45V70.85M657.44,68.45V70.85M674.75,68.45V70.85" stroke="#2a2a2a" stroke-width="0.8" fill="none"/>
<rect x="505.49" y="74.00" width="149.13" height="8.10" fill="url(#ga3)"/>
<path d="M506.69,74.00L505.49,74.00L498.09,78.05L505.49,82.10L506.69,82.10Z" fill="#1e245a"/>
<path d="M653.41,74.00L654.61,74.00L662.01,78.05L654.61,82.10L653.41,82.10Z" fill="#500c1e"/>
<path d="M505.49,74.00L498.09,78.05L505.49,82.10L654.61,82.10L662.01,78.05L654.61,74.00Z" fill="none" stroke="#2a2a2a" stroke-width="0.8"/>
<text x="526.79" y="93.40" font-size="8.91" text-anchor="middle" textLength="27.40" lengthAdjust="spacingAndGlyphs" fill="#262626" stroke="#262626" stroke-width="0.3">−5000</text>
<text x="580.05" y="93.40" font-size="8.91" text-anchor="middle" textLength="5.15" lengthAdjust="spacingAndGlyphs" fill="#262626" stroke="#262626" stroke-width="0.3">0</text>
<text x="633.31" y="93.40" font-size="8.91" text-anchor="middle" textLength="20.61" lengthAdjust="spacingAndGlyphs" fill="#262626" stroke="#262626" stroke-width="0.3">5000</text>
<path d="M526.79,82.10V84.30M580.05,82.10V84.30M633.31,82.10V84.30" stroke="#2a2a2a" stroke-width="0.8" fill="none"/>
<text x="580.05" y="103.70" font-size="9.19" text-anchor="middle" textLength="76.27" lengthAdjust="spacingAndGlyphs" fill="#262626" stroke="#262626" stroke-width="0.3">Δ Eddy population</text>
<text x="6.00" y="15.65" font-size="13.09" text-anchor="start" textLength="8.03" lengthAdjust="spacingAndGlyphs" fill="#000" font-weight="bold" stroke="#000" stroke-width="0.45">a</text>
<rect x="47.15" y="117.65" width="17.91" height="14.25" fill="#75afc0"/>
<rect x="64.46" y="117.65" width="17.91" height="14.25" fill="#cad9db"/>
<rect x="81.77" y="117.65" width="17.91" height="14.25" fill="#cedadd"/>
<rect x="99.07" y="117.65" width="17.91" height="14.25" fill="#ebeae9"/>
<rect x="116.38" y="117.65" width="17.91" height="14.25" fill="#accbd0"/>
<rect x="133.69" y="117.65" width="17.91" height="14.25" fill="#75afc0"/>
<rect x="151.00" y="117.65" width="17.91" height="14.25" fill="#3a73ca"/>
<rect x="168.31" y="117.65" width="17.91" height="14.25" fill="#2b357a"/>
<rect x="185.62" y="117.65" width="17.91" height="14.25" fill="#2b357a"/>
<rect x="202.93" y="117.65" width="17.91" height="14.25" fill="#3244a8"/>
<rect x="220.23" y="117.65" width="17.91" height="14.25" fill="#4386c2"/>
<rect x="237.54" y="117.65" width="17.31" height="14.25" fill="#3a73ca"/>
<rect x="47.15" y="131.30" width="17.91" height="14.25" fill="#a6c8ce"/>
<rect x="64.46" y="131.30" width="17.91" height="14.25" fill="#efe8e5"/>
<rect x="81.77" y="131.30" width="17.91" height="14.25" fill="#ede2de"/>
<rect x="99.07" y="131.30" width="17.91" height="14.25" fill="#eadcd6"/>
<rect x="116.38" y="131.30" width="17.91" height="14.25" fill="#a3c6cd"/>
<rect x="133.69" y="131.30" width="17.91" height="14.25" fill="#a3c6cd"/>
<rect x="151.00" y="131.30" width="17.91" height="14.25" fill="#468cc0"/>
<rect x="168.31" y="131.30" width="17.91" height="14.25" fill="#3a73ca"/>
<rect x="185.62" y="131.30" width="17.91" height="14.25" fill="#345cc8"/>
<rect x="202.93" y="131.30" width="17.91" height="14.25" fill="#3a73ca"/>
<rect x="220.23" y="131.30" width="17.91" height="14.25" fill="#4b90bf"/>
<rect x="237.54" y="131.30" width="17.31" height="14.25" fill="#3d79c8"/>
<rect x="47.15" y="144.95" width="17.91" height="14.25" fill="#bbd2d6"/>
<rect x="64.46" y="144.95" width="17.91" height="14.25" fill="#d9afa0"/>
<rect x="81.77" y="144.95" width="17.91" height="14.25" fill="#d9afa0"/>
<rect x="99.07" y="144.95" width="17.91" height="14.25" fill="#debcb0"/>
<rect x="116.38" y="144.95" width="17.91" height="14.25" fill="#ebeae9"/>
<rect x="133.69" y="144.95" width="17.91" height="14.25" fill="#d2dcde"/>
<rect x="151.00" y="144.95" width="17.91" height="14.25" fill="#86b9c4"/>
<rect x="168.31" y="144.95" width="17.91" height="14.25" fill="#6aa9be"/>
<rect x="185.62" y="144.95" width="17.91" height="14.25" fill="#468cc0"/>
<rect x="202.93" y="144.95" width="17.91" height="14.25" fill="#4080c5"/>
<rect x="220.23" y="144.95" width="17.91" height="14.25" fill="#5fa2bc"/>
<rect x="237.54" y="144.95" width="17.31" height="14.25" fill="#75afc0"/>
<rect x="47.15" y="158.60" width="17.91" height="13.65" fill="#f1eeec"/>
<rect x="64.46" y="158.60" width="17.91" height="13.65" fill="#c8785f"/>
<rect x="81.77" y="158.60" width="17.91" height="13.65" fill="#c46d53"/>
<rect x="99.07" y="158.60" width="17.91" height="13.65" fill="#c3674c"/>
<rect x="116.38" y="158.60" width="17.91" height="13.65" fill="#ca7e66"/>
<rect x="133.69" y="158.60" width="17.91" height="13.65" fill="#d7aa9a"/>
<rect x="151.00" y="158.60" width="17.91" height="13.65" fill="#eadcd6"/>
<rect x="168.31" y="158.60" width="17.91" height="13.65" fill="#d8e0e1"/>
<rect x="185.62" y="158.60" width="17.91" height="13.65" fill="#b4ced3"/>
<rect x="202.93" y="158.60" width="17.91" height="13.65" fill="#93bfc8"/>
<rect x="220.23" y="158.60" width="17.91" height="13.65" fill="#d8e0e1"/>
<rect x="237.54" y="158.60" width="17.31" height="13.65" fill="#ebeae9"/>
<path d="M-24.79,174.25L33.81,115.65M-10.42,174.25L48.18,115.65M3.95,174.25L62.55,115.65M18.32,174.25L76.92,115.65M32.69,174.25L91.29,115.65M47.06,174.25L105.66,115.65M61.43,174.25L120.03,115.65M75.80,174.25L134.40,115.65M90.17,174.25L148.77,115.65M104.54,174.25L163.14,115.65M118.91,174.25L177.51,115.65M133.28,174.25L191.88,115.65M147.65,174.25L206.25,115.65M162.02,174.25L220.62,115.65M176.39,174.25L234.99,115.65M190.76,174.25L249.36,115.65M205.13,174.25L263.73,115.65M219.50,174.25L278.10,115.65M233.87,174.25L292.47,115.65M248.24,174.25L306.84,115.65M262.61,174.25L321.21,115.65M276.98,174.25L335.58,115.65" stroke="#1a1a1a" stroke-width="1.0" fill="none" clip-path="url(#clipb1)"/>
<path d="M47.15,117.25V172.25H254.85V117.25" fill="none" stroke="#2a2a2a" stroke-width="0.8"/>
<path d="M46.75,117.65H255.25" fill="none" stroke="#8c8c8c" stroke-width="0.8"/>
<path d="M44.75,124.48H47.15M44.75,138.12H47.15M44.75,151.78H47.15M44.75,165.43H47.15M55.80,172.25V174.65M73.11,172.25V174.65M90.42,172.25V174.65M107.73,172.25V174.65M125.04,172.25V174.65M142.35,172.25V174.65M159.65,172.25V174.65M176.96,172.25V174.65M194.27,172.25V174.65M211.58,172.25V174.65M228.89,172.25V174.65M246.20,172.25V174.65" stroke="#2a2a2a" stroke-width="0.8" fill="none"/>
<text x="42.45" y="128.18" font-size="8.91" text-anchor="end" textLength="21.12" lengthAdjust="spacingAndGlyphs" fill="#262626" stroke="#262626" stroke-width="0.3">0-5m</text>
<text x="42.45" y="141.82" font-size="8.91" text-anchor="end" textLength="31.43" lengthAdjust="spacingAndGlyphs" fill="#262626" stroke="#262626" stroke-width="0.3">25-30m</text>
<text x="42.45" y="155.47" font-size="8.91" text-anchor="end" textLength="36.58" lengthAdjust="spacingAndGlyphs" fill="#262626" stroke="#262626" stroke-width="0.3">95-100m</text>
<text x="42.45" y="169.12" font-size="8.91" text-anchor="end" textLength="41.74" lengthAdjust="spacingAndGlyphs" fill="#262626" stroke="#262626" stroke-width="0.3">190-200m</text>
<rect x="76.74" y="177.80" width="149.13" height="8.10" fill="url(#gb1)"/>
<path d="M77.94,177.80L76.74,177.80L69.34,181.85L76.74,185.90L77.94,185.90Z" fill="#1e245a"/>
<path d="M224.66,177.80L225.86,177.80L233.26,181.85L225.86,185.90L224.66,185.90Z" fill="#500c1e"/>
<path d="M76.74,177.80L69.34,181.85L76.74,185.90L225.86,185.90L233.26,181.85L225.86,177.80Z" fill="none" stroke="#2a2a2a" stroke-width="0.8"/>
<text x="91.65" y="197.20" font-size="8.91" text-anchor="middle" textLength="10.31" lengthAdjust="spacingAndGlyphs" fill="#262626" stroke="#262626" stroke-width="0.3">46</text>
<text x="121.47" y="197.20" font-size="8.91" text-anchor="middle" textLength="10.31" lengthAdjust="spacingAndGlyphs" fill="#262626" stroke="#262626" stroke-width="0.3">48</text>
<text x="151.30" y="197.20" font-size="8.91" text-anchor="middle" textLength="10.31" lengthAdjust="spacingAndGlyphs" fill="#262626" stroke="#262626" stroke-width="0.3">50</text>
<text x="181.13" y="197.20" font-size="8.91" text-anchor="middle" textLength="10.31" lengthAdjust="spacingAndGlyphs" fill="#262626" stroke="#262626" stroke-width="0.3">52</text>
<text x="210.95" y="197.20" font-size="8.91" text-anchor="middle" textLength="10.31" lengthAdjust="spacingAndGlyphs" fill="#262626" stroke="#262626" stroke-width="0.3">54</text>
<path d="M91.65,185.90V188.10M121.47,185.90V188.10M151.30,185.90V188.10M181.13,185.90V188.10M210.95,185.90V188.10" stroke="#2a2a2a" stroke-width="0.8" fill="none"/>
<text x="151.30" y="207.50" font-size="9.19" text-anchor="middle" textLength="96.48" lengthAdjust="spacingAndGlyphs" fill="#262626" stroke="#262626" stroke-width="0.3">Cyclone proportion (%)</text>
<rect x="261.20" y="117.65" width="17.95" height="14.25" fill="#a3c6cd"/>
<rect x="278.55" y="117.65" width="17.95" height="14.25" fill="#bbd2d6"/>
<rect x="295.90" y="117.65" width="17.95" height="14.25" fill="#eeeceb"/>
<rect x="313.25" y="117.65" width="17.95" height="14.25" fill="#d5dedf"/>
<rect x="330.60" y="117.65" width="17.95" height="14.25" fill="#accbd0"/>
<rect x="347.95" y="117.65" width="17.95" height="14.25" fill="#90bec7"/>
<rect x="365.30" y="117.65" width="17.95" height="14.25" fill="#b4ced3"/>
<rect x="382.65" y="117.65" width="17.95" height="14.25" fill="#7ab3c1"/>
<rect x="400.00" y="117.65" width="17.95" height="14.25" fill="#5a9ebd"/>
<rect x="417.35" y="117.65" width="17.95" height="14.25" fill="#75afc0"/>
<rect x="434.70" y="117.65" width="17.95" height="14.25" fill="#a6c8ce"/>
<rect x="452.05" y="117.65" width="17.35" height="14.25" fill="#75afc0"/>
<rect x="261.20" y="131.30" width="17.95" height="14.25" fill="#d8e0e1"/>
<rect x="278.55" y="131.30" width="17.95" height="14.25" fill="#f0ebe8"/>
<rect x="295.90" y="131.30" width="17.95" height="14.25" fill="#ede2de"/>
<rect x="313.25" y="131.30" width="17.95" height="14.25" fill="#eeeceb"/>
<rect x="330.60" y="131.30" width="17.95" height="14.25" fill="#bfd4d7"/>
<rect x="347.95" y="131.30" width="17.95" height="14.25" fill="#a6c8ce"/>
<rect x="365.30" y="131.30" width="17.95" height="14.25" fill="#cad9db"/>
<rect x="382.65" y="131.30" width="17.95" height="14.25" fill="#99c2ca"/>
<rect x="400.00" y="131.30" width="17.95" height="14.25" fill="#90bec7"/>
<rect x="417.35" y="131.30" width="17.95" height="14.25" fill="#9cc4cb"/>
<rect x="434.70" y="131.30" width="17.95" height="14.25" fill="#c7d7da"/>
<rect x="452.05" y="131.30" width="17.35" height="14.25" fill="#accbd0"/>
<rect x="261.20" y="144.95" width="17.95" height="14.25" fill="#eeeceb"/>
<rect x="278.55" y="144.95" width="17.95" height="14.25" fill="#eee5e1"/>
<rect x="295.90" y="144.95" width="17.95" height="14.25" fill="#eee5e1"/>
<rect x="313.25" y="144.95" width="17.95" height="14.25" fill="#efe8e5"/>
<rect x="330.60" y="144.95" width="17.95" height="14.25" fill="#eeeceb"/>
<rect x="347.95" y="144.95" width="17.95" height="14.25" fill="#d5dedf"/>
<rect x="365.30" y="144.95" width="17.95" height="14.25" fill="#eeeceb"/>
<rect x="382.65" y="144.95" width="17.95" height="14.25" fill="#eeeceb"/>
<rect x="400.00" y="144.95" width="17.95" height="14.25" fill="#accbd0"/>
<rect x="417.35" y="144.95" width="17.95" height="14.25" fill="#b4ced3"/>
<rect x="434.70" y="144.95" width="17.95" height="14.25" fill="#eeeceb"/>
<rect x="452.05" y="144.95" width="17.35" height="14.25" fill="#d5dedf"/>
<rect x="261.20" y="158.60" width="17.95" height="13.65" fill="#efe8e5"/>
<rect x="278.55" y="158.60" width="17.95" height="13.65" fill="#d7aa9a"/>
<rect x="295.90" y="158.60" width="17.95" height="13.65" fill="#dab2a4"/>
<rect x="313.25" y="158.60" width="17.95" height="13.65" fill="#ca7e66"/>
<rect x="330.60" y="158.60" width="17.95" height="13.65" fill="#d7aa9a"/>
<rect x="347.95" y="158.60" width="17.95" height="13.65" fill="#ddb9ac"/>
<rect x="365.30" y="158.60" width="17.95" height="13.65" fill="#ca7e66"/>
<rect x="382.65" y="158.60" width="17.95" height="13.65" fill="#d09480"/>
<rect x="400.00" y="158.60" width="17.95" height="13.65" fill="#e1c3b8"/>
<rect x="417.35" y="158.60" width="17.95" height="13.65" fill="#debcb0"/>
<rect x="434.70" y="158.60" width="17.95" height="13.65" fill="#efe8e5"/>
<rect x="452.05" y="158.60" width="17.35" height="13.65" fill="#f1eeec"/>
<path d="M189.26,174.25L247.86,115.65M203.63,174.25L262.23,115.65M218.00,174.25L276.60,115.65M232.37,174.25L290.97,115.65M246.74,174.25L305.34,115.65M261.11,174.25L319.71,115.65M275.48,174.25L334.08,115.65M289.85,174.25L348.45,115.65M304.22,174.25L362.82,115.65M318.59,174.25L377.19,115.65M332.96,174.25L391.56,115.65M347.33,174.25L405.93,115.65M361.70,174.25L420.30,115.65M376.07,174.25L434.67,115.65M390.44,174.25L449.04,115.65M404.81,174.25L463.41,115.65M419.18,174.25L477.78,115.65M433.55,174.25L492.15,115.65M447.92,174.25L506.52,115.65M462.29,174.25L520.89,115.65M476.66,174.25L535.26,115.65M491.03,174.25L549.63,115.65" stroke="#1a1a1a" stroke-width="1.0" fill="none" clip-path="url(#clipb2)"/>
<path d="M261.20,117.25V172.25H469.40V117.25" fill="none" stroke="#2a2a2a" stroke-width="0.8"/>
<path d="M260.80,117.65H469.80" fill="none" stroke="#8c8c8c" stroke-width="0.8"/>
<path d="M258.80,124.48H261.20M258.80,138.12H261.20M258.80,151.78H261.20M258.80,165.43H261.20M269.88,172.25V174.65M287.22,172.25V174.65M304.57,172.25V174.65M321.92,172.25V174.65M339.27,172.25V174.65M356.62,172.25V174.65M373.97,172.25V174.65M391.32,172.25V174.65M408.67,172.25V174.65M426.02,172.25V174.65M443.38,172.25V174.65M460.72,172.25V174.65" stroke="#2a2a2a" stroke-width="0.8" fill="none"/>
<rect x="290.56" y="177.80" width="149.49" height="8.10" fill="url(#gb2)"/>
<path d="M291.76,177.80L290.56,177.80L283.16,181.85L290.56,185.90L291.76,185.90Z" fill="#1e245a"/>
<path d="M438.84,177.80L440.04,177.80L447.44,181.85L440.04,185.90L438.84,185.90Z" fill="#500c1e"/>
<path d="M290.56,177.80L283.16,181.85L290.56,185.90L440.04,185.90L447.44,181.85L440.04,177.80Z" fill="none" stroke="#2a2a2a" stroke-width="0.8"/>
<text x="305.50" y="197.20" font-size="8.91" text-anchor="middle" textLength="10.31" lengthAdjust="spacingAndGlyphs" fill="#262626" stroke="#262626" stroke-width="0.3">46</text>
<text x="335.40" y="197.20" font-size="8.91" text-anchor="middle" textLength="10.31" lengthAdjust="spacingAndGlyphs" fill="#262626" stroke="#262626" stroke-width="0.3">48</text>
<text x="365.30" y="197.20" font-size="8.91" text-anchor="middle" textLength="10.31" lengthAdjust="spacingAndGlyphs" fill="#262626" stroke="#262626" stroke-width="0.3">50</text>
<text x="395.20" y="197.20" font-size="8.91" text-anchor="middle" textLength="10.31" lengthAdjust="spacingAndGlyphs" fill="#262626" stroke="#262626" stroke-width="0.3">52</text>
<text x="425.10" y="197.20" font-size="8.91" text-anchor="middle" textLength="10.31" lengthAdjust="spacingAndGlyphs" fill="#262626" stroke="#262626" stroke-width="0.3">54</text>
<path d="M305.50,185.90V188.10M335.40,185.90V188.10M365.30,185.90V188.10M395.20,185.90V188.10M425.10,185.90V188.10" stroke="#2a2a2a" stroke-width="0.8" fill="none"/>
<text x="365.30" y="207.50" font-size="9.19" text-anchor="middle" textLength="96.48" lengthAdjust="spacingAndGlyphs" fill="#262626" stroke="#262626" stroke-width="0.3">Cyclone proportion (%)</text>
<rect x="475.70" y="117.65" width="17.91" height="14.25" fill="#d4a290"/>
<rect x="493.01" y="117.65" width="17.91" height="14.25" fill="#e5e7e6"/>
<rect x="510.32" y="117.65" width="17.91" height="14.25" fill="#e3c9c0"/>
<rect x="527.62" y="117.65" width="17.91" height="14.25" fill="#cad9db"/>
<rect x="544.93" y="117.65" width="17.91" height="14.25" fill="#ebeae9"/>
<rect x="562.24" y="117.65" width="17.91" height="14.25" fill="#e7d3cc"/>
<rect x="579.55" y="117.65" width="17.91" height="14.25" fill="#88162e"/>
<rect x="596.86" y="117.65" width="17.91" height="14.25" fill="#671026"/>
<rect x="614.17" y="117.65" width="17.91" height="14.25" fill="#96192f"/>
<rect x="631.48" y="117.65" width="17.91" height="14.25" fill="#8e172e"/>
<rect x="648.78" y="117.65" width="17.91" height="14.25" fill="#b94733"/>
<rect x="666.09" y="117.65" width="17.31" height="14.25" fill="#c3674c"/>
<rect x="475.70" y="131.30" width="17.91" height="14.25" fill="#d5a493"/>
<rect x="493.01" y="131.30" width="17.91" height="14.25" fill="#f1eeec"/>
<rect x="510.32" y="131.30" width="17.91" height="14.25" fill="#efe8e5"/>
<rect x="527.62" y="131.30" width="17.91" height="14.25" fill="#dbe1e2"/>
<rect x="544.93" y="131.30" width="17.91" height="14.25" fill="#debcb0"/>
<rect x="562.24" y="131.30" width="17.91" height="14.25" fill="#eeeceb"/>
<rect x="579.55" y="131.30" width="17.91" height="14.25" fill="#a6252c"/>
<rect x="596.86" y="131.30" width="17.91" height="14.25" fill="#96192f"/>
<rect x="614.17" y="131.30" width="17.91" height="14.25" fill="#9c1e2e"/>
<rect x="631.48" y="131.30" width="17.91" height="14.25" fill="#ac2d2d"/>
<rect x="648.78" y="131.30" width="17.91" height="14.25" fill="#ae302d"/>
<rect x="666.09" y="131.30" width="17.31" height="14.25" fill="#a9282c"/>
<rect x="475.70" y="144.95" width="17.91" height="14.25" fill="#d9afa0"/>
<rect x="493.01" y="144.95" width="17.91" height="14.25" fill="#a3c6cd"/>
<rect x="510.32" y="144.95" width="17.91" height="14.25" fill="#9cc4cb"/>
<rect x="527.62" y="144.95" width="17.91" height="14.25" fill="#bbd2d6"/>
<rect x="544.93" y="144.95" width="17.91" height="14.25" fill="#e8e9e8"/>
<rect x="562.24" y="144.95" width="17.91" height="14.25" fill="#ebeae9"/>
<rect x="579.55" y="144.95" width="17.91" height="14.25" fill="#c3674c"/>
<rect x="596.86" y="144.95" width="17.91" height="14.25" fill="#ab2b2c"/>
<rect x="614.17" y="144.95" width="17.91" height="14.25" fill="#b84432"/>
<rect x="631.48" y="144.95" width="17.91" height="14.25" fill="#a6252c"/>
<rect x="648.78" y="144.95" width="17.91" height="14.25" fill="#ab2b2c"/>
<rect x="666.09" y="144.95" width="17.31" height="14.25" fill="#c46d53"/>
<rect x="475.70" y="158.60" width="17.91" height="13.65" fill="#efe8e5"/>
<rect x="493.01" y="158.60" width="17.91" height="13.65" fill="#9fc5cc"/>
<rect x="510.32" y="158.60" width="17.91" height="13.65" fill="#7ab3c1"/>
<rect x="527.62" y="158.60" width="17.91" height="13.65" fill="#bbd2d6"/>
<rect x="544.93" y="158.60" width="17.91" height="13.65" fill="#9cc4cb"/>
<rect x="562.24" y="158.60" width="17.91" height="13.65" fill="#e8e9e8"/>
<rect x="579.55" y="158.60" width="17.91" height="13.65" fill="#cc866f"/>
<rect x="596.86" y="158.60" width="17.91" height="13.65" fill="#b74130"/>
<rect x="614.17" y="158.60" width="17.91" height="13.65" fill="#bb5039"/>
<rect x="631.48" y="158.60" width="17.91" height="13.65" fill="#a2222d"/>
<rect x="648.78" y="158.60" width="17.91" height="13.65" fill="#ddb9ac"/>
<rect x="666.09" y="158.60" width="17.31" height="13.65" fill="#eadcd6"/>
<path d="M475.70,117.25V172.25H683.40V117.25" fill="none" stroke="#2a2a2a" stroke-width="0.8"/>
<path d="M475.30,117.65H683.80" fill="none" stroke="#8c8c8c" stroke-width="0.8"/>
<path d="M473.30,124.48H475.70M473.30,138.12H475.70M473.30,151.78H475.70M473.30,165.43H475.70M484.35,172.25V174.65M501.66,172.25V174.65M518.97,172.25V174.65M536.28,172.25V174.65M553.59,172.25V174.65M570.90,172.25V174.65M588.20,172.25V174.65M605.51,172.25V174.65M622.82,172.25V174.65M640.13,172.25V174.65M657.44,172.25V174.65M674.75,172.25V174.65" stroke="#2a2a2a" stroke-width="0.8" fill="none"/>
<rect x="505.49" y="177.80" width="149.13" height="8.10" fill="url(#gb3)"/>
<path d="M506.69,177.80L505.49,177.80L498.09,181.85L505.49,185.90L506.69,185.90Z" fill="#1e245a"/>
<path d="M653.41,177.80L654.61,177.80L662.01,181.85L654.61,185.90L653.41,185.90Z" fill="#500c1e"/>
<path d="M505.49,177.80L498.09,181.85L505.49,185.90L654.61,185.90L662.01,181.85L654.61,177.80Z" fill="none" stroke="#2a2a2a" stroke-width="0.8"/>
<text x="530.34" y="197.20" font-size="8.91" text-anchor="middle" textLength="11.94" lengthAdjust="spacingAndGlyphs" fill="#262626" stroke="#262626" stroke-width="0.3">−2</text>
<text x="580.05" y="197.20" font-size="8.91" text-anchor="middle" textLength="5.15" lengthAdjust="spacingAndGlyphs" fill="#262626" stroke="#262626" stroke-width="0.3">0</text>
<text x="629.76" y="197.20" font-size="8.91" text-anchor="middle" textLength="5.15" lengthAdjust="spacingAndGlyphs" fill="#262626" stroke="#262626" stroke-width="0.3">2</text>
<path d="M530.34,185.90V188.10M580.05,185.90V188.10M629.76,185.90V188.10" stroke="#2a2a2a" stroke-width="0.8" fill="none"/>
<text x="580.05" y="207.50" font-size="9.19" text-anchor="middle" textLength="104.84" lengthAdjust="spacingAndGlyphs" fill="#262626" stroke="#262626" stroke-width="0.3">Δ Cyclone proportion (%)</text>
<text x="6.00" y="119.45" font-size="13.09" text-anchor="start" textLength="8.52" lengthAdjust="spacingAndGlyphs" fill="#000" font-weight="bold" stroke="#000" stroke-width="0.45">b</text>
<rect x="47.15" y="221.50" width="17.91" height="14.25" fill="#c9826d"/>
<rect x="64.46" y="221.50" width="17.91" height="14.25" fill="#c26950"/>
<rect x="81.77" y="221.50" width="17.91" height="14.25" fill="#bb503a"/>
<rect x="99.07" y="221.50" width="17.91" height="14.25" fill="#bd5842"/>
<rect x="116.38" y="221.50" width="17.91" height="14.25" fill="#c1664e"/>
<rect x="133.69" y="221.50" width="17.91" height="14.25" fill="#cd8e7a"/>
<rect x="151.00" y="221.50" width="17.91" height="14.25" fill="#d9bbb0"/>
<rect x="168.31" y="221.50" width="17.91" height="14.25" fill="#e3d5cf"/>
<rect x="185.62" y="221.50" width="17.91" height="14.25" fill="#eee9e7"/>
<rect x="202.93" y="221.50" width="17.91" height="14.25" fill="#ede7e4"/>
<rect x="220.23" y="221.50" width="17.91" height="14.25" fill="#e8e0dc"/>
<rect x="237.54" y="221.50" width="17.31" height="14.25" fill="#dbc1b7"/>
<rect x="47.15" y="235.15" width="17.91" height="14.25" fill="#ce9380"/>
<rect x="64.46" y="235.15" width="17.91" height="14.25" fill="#c77a63"/>
<rect x="81.77" y="235.15" width="17.91" height="14.25" fill="#bd5842"/>
<rect x="99.07" y="235.15" width="17.91" height="14.25" fill="#bd5842"/>
<rect x="116.38" y="235.15" width="17.91" height="14.25" fill="#c1664e"/>
<rect x="133.69" y="235.15" width="17.91" height="14.25" fill="#ca8570"/>
<rect x="151.00" y="235.15" width="17.91" height="14.25" fill="#d7b2a6"/>
<rect x="168.31" y="235.15" width="17.91" height="14.25" fill="#dec8c0"/>
<rect x="185.62" y="235.15" width="17.91" height="14.25" fill="#e7ded9"/>
<rect x="202.93" y="235.15" width="17.91" height="14.25" fill="#e7ded9"/>
<rect x="220.23" y="235.15" width="17.91" height="14.25" fill="#e7ded9"/>
<rect x="237.54" y="235.15" width="17.31" height="14.25" fill="#dec8c0"/>
<rect x="47.15" y="248.80" width="17.91" height="14.25" fill="#c87d66"/>
<rect x="64.46" y="248.80" width="17.91" height="14.25" fill="#c06149"/>
<rect x="81.77" y="248.80" width="17.91" height="14.25" fill="#ae322a"/>
<rect x="99.07" y="248.80" width="17.91" height="14.25" fill="#ae322a"/>
<rect x="116.38" y="248.80" width="17.91" height="14.25" fill="#b1372c"/>
<rect x="133.69" y="248.80" width="17.91" height="14.25" fill="#bd5842"/>
<rect x="151.00" y="248.80" width="17.91" height="14.25" fill="#c87d66"/>
<rect x="168.31" y="248.80" width="17.91" height="14.25" fill="#cd907d"/>
<rect x="185.62" y="248.80" width="17.91" height="14.25" fill="#d7b2a6"/>
<rect x="202.93" y="248.80" width="17.91" height="14.25" fill="#dabeb4"/>
<rect x="220.23" y="248.80" width="17.91" height="14.25" fill="#dbc1b7"/>
<rect x="237.54" y="248.80" width="17.31" height="14.25" fill="#d5aa9b"/>
<rect x="47.15" y="262.45" width="17.91" height="13.65" fill="#d3a494"/>
<rect x="64.46" y="262.45" width="17.91" height="13.65" fill="#c87d66"/>
<rect x="81.77" y="262.45" width="17.91" height="13.65" fill="#bb503a"/>
<rect x="99.07" y="262.45" width="17.91" height="13.65" fill="#ba4d38"/>
<rect x="116.38" y="262.45" width="17.91" height="13.65" fill="#bb503a"/>
<rect x="133.69" y="262.45" width="17.91" height="13.65" fill="#c1664e"/>
<rect x="151.00" y="262.45" width="17.91" height="13.65" fill="#c87d66"/>
<rect x="168.31" y="262.45" width="17.91" height="13.65" fill="#ce9380"/>
<rect x="185.62" y="262.45" width="17.91" height="13.65" fill="#d5ad9e"/>
<rect x="202.93" y="262.45" width="17.91" height="13.65" fill="#d9bbb0"/>
<rect x="220.23" y="262.45" width="17.91" height="13.65" fill="#d9bbb0"/>
<rect x="237.54" y="262.45" width="17.31" height="13.65" fill="#d7b2a6"/>
<path d="M47.15,221.10V276.10H254.85V221.10" fill="none" stroke="#2a2a2a" stroke-width="0.8"/>
<path d="M46.75,221.50H255.25" fill="none" stroke="#3a3a3a" stroke-width="0.8"/>
<path d="M44.75,228.32H47.15M44.75,241.97H47.15M44.75,255.62H47.15M44.75,269.27H47.15M55.80,276.10V278.50M73.11,276.10V278.50M90.42,276.10V278.50M107.73,276.10V278.50M125.04,276.10V278.50M142.35,276.10V278.50M159.65,276.10V278.50M176.96,276.10V278.50M194.27,276.10V278.50M211.58,276.10V278.50M228.89,276.10V278.50M246.20,276.10V278.50" stroke="#2a2a2a" stroke-width="0.8" fill="none"/>
<text x="42.45" y="232.02" font-size="8.91" text-anchor="end" textLength="21.12" lengthAdjust="spacingAndGlyphs" fill="#262626" stroke="#262626" stroke-width="0.3">0-5m</text>
<text x="42.45" y="245.67" font-size="8.91" text-anchor="end" textLength="31.43" lengthAdjust="spacingAndGlyphs" fill="#262626" stroke="#262626" stroke-width="0.3">25-30m</text>
<text x="42.45" y="259.32" font-size="8.91" text-anchor="end" textLength="36.58" lengthAdjust="spacingAndGlyphs" fill="#262626" stroke="#262626" stroke-width="0.3">95-100m</text>
<text x="42.45" y="272.97" font-size="8.91" text-anchor="end" textLength="41.74" lengthAdjust="spacingAndGlyphs" fill="#262626" stroke="#262626" stroke-width="0.3">190-200m</text>
<rect x="76.74" y="281.65" width="149.13" height="8.10" fill="url(#gc1)"/>
<path d="M77.94,281.65L76.74,281.65L69.34,285.70L76.74,289.75L77.94,289.75Z" fill="#f0edeb"/>
<path d="M224.66,281.65L225.86,281.65L233.26,285.70L225.86,289.75L224.66,289.75Z" fill="#500c1e"/>
<path d="M76.74,281.65L69.34,285.70L76.74,289.75L225.86,289.75L233.26,285.70L225.86,281.65Z" fill="none" stroke="#2a2a2a" stroke-width="0.8"/>
<text x="76.74" y="301.05" font-size="8.91" text-anchor="middle" textLength="20.61" lengthAdjust="spacingAndGlyphs" fill="#262626" stroke="#262626" stroke-width="0.3">4000</text>
<text x="126.45" y="301.05" font-size="8.91" text-anchor="middle" textLength="20.61" lengthAdjust="spacingAndGlyphs" fill="#262626" stroke="#262626" stroke-width="0.3">6000</text>
<text x="176.15" y="301.05" font-size="8.91" text-anchor="middle" textLength="20.61" lengthAdjust="spacingAndGlyphs" fill="#262626" stroke="#262626" stroke-width="0.3">8000</text>
<text x="225.86" y="301.05" font-size="8.91" text-anchor="middle" textLength="25.77" lengthAdjust="spacingAndGlyphs" fill="#262626" stroke="#262626" stroke-width="0.3">10000</text>
<path d="M76.74,289.75V291.95M126.45,289.75V291.95M176.15,289.75V291.95M225.86,289.75V291.95" stroke="#2a2a2a" stroke-width="0.8" fill="none"/>
<text x="151.30" y="311.35" font-size="9.19" text-anchor="middle" textLength="80.31" lengthAdjust="spacingAndGlyphs" fill="#262626" stroke="#262626" stroke-width="0.3">Cyclone population</text>
<rect x="261.20" y="221.50" width="17.95" height="14.25" fill="#b94a37"/>
<rect x="278.55" y="221.50" width="17.95" height="14.25" fill="#b94a37"/>
<rect x="295.90" y="221.50" width="17.95" height="14.25" fill="#a62a2c"/>
<rect x="313.25" y="221.50" width="17.95" height="14.25" fill="#9b202e"/>
<rect x="330.60" y="221.50" width="17.95" height="14.25" fill="#8a1a2d"/>
<rect x="347.95" y="221.50" width="17.95" height="14.25" fill="#9f242d"/>
<rect x="365.30" y="221.50" width="17.95" height="14.25" fill="#b33c2f"/>
<rect x="382.65" y="221.50" width="17.95" height="14.25" fill="#bd563f"/>
<rect x="400.00" y="221.50" width="17.95" height="14.25" fill="#c77a63"/>
<rect x="417.35" y="221.50" width="17.95" height="14.25" fill="#c98069"/>
<rect x="434.70" y="221.50" width="17.95" height="14.25" fill="#c5745d"/>
<rect x="452.05" y="221.50" width="17.35" height="14.25" fill="#c06149"/>
<rect x="261.20" y="235.15" width="17.95" height="14.25" fill="#bd563f"/>
<rect x="278.55" y="235.15" width="17.95" height="14.25" fill="#bb503a"/>
<rect x="295.90" y="235.15" width="17.95" height="14.25" fill="#ac302b"/>
<rect x="313.25" y="235.15" width="17.95" height="14.25" fill="#a1262d"/>
<rect x="330.60" y="235.15" width="17.95" height="14.25" fill="#8d1b2d"/>
<rect x="347.95" y="235.15" width="17.95" height="14.25" fill="#a3282c"/>
<rect x="365.30" y="235.15" width="17.95" height="14.25" fill="#b43f30"/>
<rect x="382.65" y="235.15" width="17.95" height="14.25" fill="#be5b44"/>
<rect x="400.00" y="235.15" width="17.95" height="14.25" fill="#c5745d"/>
<rect x="417.35" y="235.15" width="17.95" height="14.25" fill="#c77a63"/>
<rect x="434.70" y="235.15" width="17.95" height="14.25" fill="#c57259"/>
<rect x="452.05" y="235.15" width="17.35" height="14.25" fill="#c06149"/>
<rect x="261.20" y="248.80" width="17.95" height="14.25" fill="#b84835"/>
<rect x="278.55" y="248.80" width="17.95" height="14.25" fill="#b23a2d"/>
<rect x="295.90" y="248.80" width="17.95" height="14.25" fill="#7f162c"/>
<rect x="313.25" y="248.80" width="17.95" height="14.25" fill="#701229"/>
<rect x="330.60" y="248.80" width="17.95" height="14.25" fill="#641025"/>
<rect x="347.95" y="248.80" width="17.95" height="14.25" fill="#78142c"/>
<rect x="365.30" y="248.80" width="17.95" height="14.25" fill="#941e2e"/>
<rect x="382.65" y="248.80" width="17.95" height="14.25" fill="#ac302b"/>
<rect x="400.00" y="248.80" width="17.95" height="14.25" fill="#bd5842"/>
<rect x="417.35" y="248.80" width="17.95" height="14.25" fill="#be5b44"/>
<rect x="434.70" y="248.80" width="17.95" height="14.25" fill="#c1644b"/>
<rect x="452.05" y="248.80" width="17.35" height="14.25" fill="#c06149"/>
<rect x="261.20" y="262.45" width="17.95" height="13.65" fill="#c57259"/>
<rect x="278.55" y="262.45" width="17.95" height="13.65" fill="#bf5e46"/>
<rect x="295.90" y="262.45" width="17.95" height="13.65" fill="#ac302b"/>
<rect x="313.25" y="262.45" width="17.95" height="13.65" fill="#9b202e"/>
<rect x="330.60" y="262.45" width="17.95" height="13.65" fill="#8d1b2d"/>
<rect x="347.95" y="262.45" width="17.95" height="13.65" fill="#a1262d"/>
<rect x="365.30" y="262.45" width="17.95" height="13.65" fill="#ae322a"/>
<rect x="382.65" y="262.45" width="17.95" height="13.65" fill="#bb503a"/>
<rect x="400.00" y="262.45" width="17.95" height="13.65" fill="#c26950"/>
<rect x="417.35" y="262.45" width="17.95" height="13.65" fill="#c46f56"/>
<rect x="434.70" y="262.45" width="17.95" height="13.65" fill="#c98069"/>
<rect x="452.05" y="262.45" width="17.35" height="13.65" fill="#c77a63"/>
<path d="M261.20,221.10V276.10H469.40V221.10" fill="none" stroke="#2a2a2a" stroke-width="0.8"/>
<path d="M260.80,221.50H469.80" fill="none" stroke="#3a3a3a" stroke-width="0.8"/>
<path d="M258.80,228.32H261.20M258.80,241.97H261.20M258.80,255.62H261.20M258.80,269.27H261.20M269.88,276.10V278.50M287.22,276.10V278.50M304.57,276.10V278.50M321.92,276.10V278.50M339.27,276.10V278.50M356.62,276.10V278.50M373.97,276.10V278.50M391.32,276.10V278.50M408.67,276.10V278.50M426.02,276.10V278.50M443.38,276.10V278.50M460.72,276.10V278.50" stroke="#2a2a2a" stroke-width="0.8" fill="none"/>
<rect x="290.56" y="281.65" width="149.49" height="8.10" fill="url(#gc2)"/>
<path d="M291.76,281.65L290.56,281.65L283.16,285.70L290.56,289.75L291.76,289.75Z" fill="#f0edeb"/>
<path d="M438.84,281.65L440.04,281.65L447.44,285.70L440.04,289.75L438.84,289.75Z" fill="#500c1e"/>
<path d="M290.56,281.65L283.16,285.70L290.56,289.75L440.04,289.75L447.44,285.70L440.04,281.65Z" fill="none" stroke="#2a2a2a" stroke-width="0.8"/>
<text x="290.56" y="301.05" font-size="8.91" text-anchor="middle" textLength="20.61" lengthAdjust="spacingAndGlyphs" fill="#262626" stroke="#262626" stroke-width="0.3">4000</text>
<text x="340.39" y="301.05" font-size="8.91" text-anchor="middle" textLength="20.61" lengthAdjust="spacingAndGlyphs" fill="#262626" stroke="#262626" stroke-width="0.3">6000</text>
<text x="390.21" y="301.05" font-size="8.91" text-anchor="middle" textLength="20.61" lengthAdjust="spacingAndGlyphs" fill="#262626" stroke="#262626" stroke-width="0.3">8000</text>
<text x="440.04" y="301.05" font-size="8.91" text-anchor="middle" textLength="25.77" lengthAdjust="spacingAndGlyphs" fill="#262626" stroke="#262626" stroke-width="0.3">10000</text>
<path d="M290.56,289.75V291.95M340.39,289.75V291.95M390.21,289.75V291.95M440.04,289.75V291.95" stroke="#2a2a2a" stroke-width="0.8" fill="none"/>
<text x="365.30" y="311.35" font-size="9.19" text-anchor="middle" textLength="80.31" lengthAdjust="spacingAndGlyphs" fill="#262626" stroke="#262626" stroke-width="0.3">Cyclone population</text>
<rect x="475.70" y="221.50" width="17.91" height="14.25" fill="#c46d53"/>
<rect x="493.01" y="221.50" width="17.91" height="14.25" fill="#dcb6a8"/>
<rect x="510.32" y="221.50" width="17.91" height="14.25" fill="#d39c8a"/>
<rect x="527.62" y="221.50" width="17.91" height="14.25" fill="#c57056"/>
<rect x="544.93" y="221.50" width="17.91" height="14.25" fill="#ac2d2d"/>
<rect x="562.24" y="221.50" width="17.91" height="14.25" fill="#88162e"/>
<rect x="579.55" y="221.50" width="17.91" height="14.25" fill="#6e1129"/>
<rect x="596.86" y="221.50" width="17.91" height="14.25" fill="#76122c"/>
<rect x="614.17" y="221.50" width="17.91" height="14.25" fill="#94182f"/>
<rect x="631.48" y="221.50" width="17.91" height="14.25" fill="#a0202d"/>
<rect x="648.78" y="221.50" width="17.91" height="14.25" fill="#a0202d"/>
<rect x="666.09" y="221.50" width="17.31" height="14.25" fill="#a4232d"/>
<rect x="475.70" y="235.15" width="17.91" height="14.25" fill="#c46d53"/>
<rect x="493.01" y="235.15" width="17.91" height="14.25" fill="#d39c8a"/>
<rect x="510.32" y="235.15" width="17.91" height="14.25" fill="#d19783"/>
<rect x="527.62" y="235.15" width="17.91" height="14.25" fill="#c57056"/>
<rect x="544.93" y="235.15" width="17.91" height="14.25" fill="#ac2d2d"/>
<rect x="562.24" y="235.15" width="17.91" height="14.25" fill="#981b2e"/>
<rect x="579.55" y="235.15" width="17.91" height="14.25" fill="#76122c"/>
<rect x="596.86" y="235.15" width="17.91" height="14.25" fill="#88162e"/>
<rect x="614.17" y="235.15" width="17.91" height="14.25" fill="#94182f"/>
<rect x="631.48" y="235.15" width="17.91" height="14.25" fill="#a8262c"/>
<rect x="648.78" y="235.15" width="17.91" height="14.25" fill="#a9282c"/>
<rect x="666.09" y="235.15" width="17.31" height="14.25" fill="#ac2d2d"/>
<rect x="475.70" y="248.80" width="17.91" height="14.25" fill="#cc866f"/>
<rect x="493.01" y="248.80" width="17.91" height="14.25" fill="#d39c8a"/>
<rect x="510.32" y="248.80" width="17.91" height="14.25" fill="#ce8c76"/>
<rect x="527.62" y="248.80" width="17.91" height="14.25" fill="#c57056"/>
<rect x="544.93" y="248.80" width="17.91" height="14.25" fill="#b84432"/>
<rect x="562.24" y="248.80" width="17.91" height="14.25" fill="#a0202d"/>
<rect x="579.55" y="248.80" width="17.91" height="14.25" fill="#981b2e"/>
<rect x="596.86" y="248.80" width="17.91" height="14.25" fill="#8e172e"/>
<rect x="614.17" y="248.80" width="17.91" height="14.25" fill="#ab2b2c"/>
<rect x="631.48" y="248.80" width="17.91" height="14.25" fill="#a8262c"/>
<rect x="648.78" y="248.80" width="17.91" height="14.25" fill="#b3392e"/>
<rect x="666.09" y="248.80" width="17.31" height="14.25" fill="#b94733"/>
<rect x="475.70" y="262.45" width="17.91" height="13.65" fill="#d39c8a"/>
<rect x="493.01" y="262.45" width="17.91" height="13.65" fill="#ddb9ac"/>
<rect x="510.32" y="262.45" width="17.91" height="13.65" fill="#d9afa0"/>
<rect x="527.62" y="262.45" width="17.91" height="13.65" fill="#ce8c76"/>
<rect x="544.93" y="262.45" width="17.91" height="13.65" fill="#c46a50"/>
<rect x="562.24" y="262.45" width="17.91" height="13.65" fill="#bd563c"/>
<rect x="579.55" y="262.45" width="17.91" height="13.65" fill="#b74130"/>
<rect x="596.86" y="262.45" width="17.91" height="13.65" fill="#b94733"/>
<rect x="614.17" y="262.45" width="17.91" height="13.65" fill="#bd563c"/>
<rect x="631.48" y="262.45" width="17.91" height="13.65" fill="#bd563c"/>
<rect x="648.78" y="262.45" width="17.91" height="13.65" fill="#c8785f"/>
<rect x="666.09" y="262.45" width="17.31" height="13.65" fill="#c8785f"/>
<path d="M475.70,221.10V276.10H683.40V221.10" fill="none" stroke="#2a2a2a" stroke-width="0.8"/>
<path d="M475.30,221.50H683.80" fill="none" stroke="#3a3a3a" stroke-width="0.8"/>
<path d="M473.30,228.32H475.70M473.30,241.97H475.70M473.30,255.62H475.70M473.30,269.27H475.70M484.35,276.10V278.50M501.66,276.10V278.50M518.97,276.10V278.50M536.28,276.10V278.50M553.59,276.10V278.50M570.90,276.10V278.50M588.20,276.10V278.50M605.51,276.10V278.50M622.82,276.10V278.50M640.13,276.10V278.50M657.44,276.10V278.50M674.75,276.10V278.50" stroke="#2a2a2a" stroke-width="0.8" fill="none"/>
<rect x="505.49" y="281.65" width="149.13" height="8.10" fill="url(#gc3)"/>
<path d="M506.69,281.65L505.49,281.65L498.09,285.70L505.49,289.75L506.69,289.75Z" fill="#1e245a"/>
<path d="M653.41,281.65L654.61,281.65L662.01,285.70L654.61,289.75L653.41,289.75Z" fill="#500c1e"/>
<path d="M505.49,281.65L498.09,285.70L505.49,289.75L654.61,289.75L662.01,285.70L654.61,281.65Z" fill="none" stroke="#2a2a2a" stroke-width="0.8"/>
<text x="530.34" y="301.05" font-size="8.91" text-anchor="middle" textLength="27.40" lengthAdjust="spacingAndGlyphs" fill="#262626" stroke="#262626" stroke-width="0.3">−2000</text>
<text x="580.05" y="301.05" font-size="8.91" text-anchor="middle" textLength="5.15" lengthAdjust="spacingAndGlyphs" fill="#262626" stroke="#262626" stroke-width="0.3">0</text>
<text x="629.76" y="301.05" font-size="8.91" text-anchor="middle" textLength="20.61" lengthAdjust="spacingAndGlyphs" fill="#262626" stroke="#262626" stroke-width="0.3">2000</text>
<path d="M530.34,289.75V291.95M580.05,289.75V291.95M629.76,289.75V291.95" stroke="#2a2a2a" stroke-width="0.8" fill="none"/>
<text x="580.05" y="311.35" font-size="9.19" text-anchor="middle" textLength="88.68" lengthAdjust="spacingAndGlyphs" fill="#262626" stroke="#262626" stroke-width="0.3">Δ Cyclone population</text>
<text x="6.00" y="223.30" font-size="13.09" text-anchor="start" textLength="7.05" lengthAdjust="spacingAndGlyphs" fill="#000" font-weight="bold" stroke="#000" stroke-width="0.45">c</text>
<rect x="47.15" y="325.45" width="17.91" height="14.25" fill="#c36c53"/>
<rect x="64.46" y="325.45" width="17.91" height="14.25" fill="#c1644b"/>
<rect x="81.77" y="325.45" width="17.91" height="14.25" fill="#b84835"/>
<rect x="99.07" y="325.45" width="17.91" height="14.25" fill="#bd5842"/>
<rect x="116.38" y="325.45" width="17.91" height="14.25" fill="#be5b44"/>
<rect x="133.69" y="325.45" width="17.91" height="14.25" fill="#c98069"/>
<rect x="151.00" y="325.45" width="17.91" height="14.25" fill="#cd907d"/>
<rect x="168.31" y="325.45" width="17.91" height="14.25" fill="#d3a494"/>
<rect x="185.62" y="325.45" width="17.91" height="14.25" fill="#dbc1b7"/>
<rect x="202.93" y="325.45" width="17.91" height="14.25" fill="#dcc4ba"/>
<rect x="220.23" y="325.45" width="17.91" height="14.25" fill="#dfcbc3"/>
<rect x="237.54" y="325.45" width="17.31" height="14.25" fill="#ce9380"/>
<rect x="47.15" y="339.10" width="17.91" height="14.25" fill="#cc8b76"/>
<rect x="64.46" y="339.10" width="17.91" height="14.25" fill="#c98069"/>
<rect x="81.77" y="339.10" width="17.91" height="14.25" fill="#bd5842"/>
<rect x="99.07" y="339.10" width="17.91" height="14.25" fill="#bd5842"/>
<rect x="116.38" y="339.10" width="17.91" height="14.25" fill="#bd5842"/>
<rect x="133.69" y="339.10" width="17.91" height="14.25" fill="#c67760"/>
<rect x="151.00" y="339.10" width="17.91" height="14.25" fill="#cd907d"/>
<rect x="168.31" y="339.10" width="17.91" height="14.25" fill="#d3a494"/>
<rect x="185.62" y="339.10" width="17.91" height="14.25" fill="#dcc4ba"/>
<rect x="202.93" y="339.10" width="17.91" height="14.25" fill="#ddc6bd"/>
<rect x="220.23" y="339.10" width="17.91" height="14.25" fill="#dcc4ba"/>
<rect x="237.54" y="339.10" width="17.31" height="14.25" fill="#d3a494"/>
<rect x="47.15" y="352.75" width="17.91" height="14.25" fill="#c5745d"/>
<rect x="64.46" y="352.75" width="17.91" height="14.25" fill="#c36c53"/>
<rect x="81.77" y="352.75" width="17.91" height="14.25" fill="#b1372c"/>
<rect x="99.07" y="352.75" width="17.91" height="14.25" fill="#b0342a"/>
<rect x="116.38" y="352.75" width="17.91" height="14.25" fill="#b0342a"/>
<rect x="133.69" y="352.75" width="17.91" height="14.25" fill="#bd563f"/>
<rect x="151.00" y="352.75" width="17.91" height="14.25" fill="#c46f56"/>
<rect x="168.31" y="352.75" width="17.91" height="14.25" fill="#c98069"/>
<rect x="185.62" y="352.75" width="17.91" height="14.25" fill="#ce9380"/>
<rect x="202.93" y="352.75" width="17.91" height="14.25" fill="#cf9684"/>
<rect x="220.23" y="352.75" width="17.91" height="14.25" fill="#d3a494"/>
<rect x="237.54" y="352.75" width="17.31" height="14.25" fill="#ce9380"/>
<rect x="47.15" y="366.40" width="17.91" height="13.65" fill="#d19e8d"/>
<rect x="64.46" y="366.40" width="17.91" height="13.65" fill="#cc8b76"/>
<rect x="81.77" y="366.40" width="17.91" height="13.65" fill="#c1644b"/>
<rect x="99.07" y="366.40" width="17.91" height="13.65" fill="#c1644b"/>
<rect x="116.38" y="366.40" width="17.91" height="13.65" fill="#c1644b"/>
<rect x="133.69" y="366.40" width="17.91" height="13.65" fill="#c36c53"/>
<rect x="151.00" y="366.40" width="17.91" height="13.65" fill="#ca8570"/>
<rect x="168.31" y="366.40" width="17.91" height="13.65" fill="#cc8b76"/>
<rect x="185.62" y="366.40" width="17.91" height="13.65" fill="#d3a494"/>
<rect x="202.93" y="366.40" width="17.91" height="13.65" fill="#d5aa9b"/>
<rect x="220.23" y="366.40" width="17.91" height="13.65" fill="#d9b8ac"/>
<rect x="237.54" y="366.40" width="17.31" height="13.65" fill="#d7b2a6"/>
<path d="M47.15,325.05V380.05H254.85V325.05" fill="none" stroke="#2a2a2a" stroke-width="0.8"/>
<path d="M46.75,325.45H255.25" fill="none" stroke="#3a3a3a" stroke-width="0.8"/>
<path d="M44.75,332.27H47.15M44.75,345.93H47.15M44.75,359.57H47.15M44.75,373.22H47.15M55.80,380.05V382.45M73.11,380.05V382.45M90.42,380.05V382.45M107.73,380.05V382.45M125.04,380.05V382.45M142.35,380.05V382.45M159.65,380.05V382.45M176.96,380.05V382.45M194.27,380.05V382.45M211.58,380.05V382.45M228.89,380.05V382.45M246.20,380.05V382.45" stroke="#2a2a2a" stroke-width="0.8" fill="none"/>
<text x="42.45" y="335.97" font-size="8.91" text-anchor="end" textLength="21.12" lengthAdjust="spacingAndGlyphs" fill="#262626" stroke="#262626" stroke-width="0.3">0-5m</text>
<text x="42.45" y="349.62" font-size="8.91" text-anchor="end" textLength="31.43" lengthAdjust="spacingAndGlyphs" fill="#262626" stroke="#262626" stroke-width="0.3">25-30m</text>
<text x="42.45" y="363.27" font-size="8.91" text-anchor="end" textLength="36.58" lengthAdjust="spacingAndGlyphs" fill="#262626" stroke="#262626" stroke-width="0.3">95-100m</text>
<text x="42.45" y="376.92" font-size="8.91" text-anchor="end" textLength="41.74" lengthAdjust="spacingAndGlyphs" fill="#262626" stroke="#262626" stroke-width="0.3">190-200m</text>
<text x="55.80" y="391.00" font-size="8.91" text-anchor="middle" textLength="12.49" lengthAdjust="spacingAndGlyphs" fill="#262626" stroke="#262626" stroke-width="0.3">Jan</text>
<text x="73.11" y="391.00" font-size="8.91" text-anchor="middle" textLength="14.34" lengthAdjust="spacingAndGlyphs" fill="#262626" stroke="#262626" stroke-width="0.3">Feb</text>
<text x="90.42" y="391.00" font-size="8.91" text-anchor="middle" textLength="15.28" lengthAdjust="spacingAndGlyphs" fill="#262626" stroke="#262626" stroke-width="0.3">Mar</text>
<text x="107.73" y="391.00" font-size="8.91" text-anchor="middle" textLength="14.01" lengthAdjust="spacingAndGlyphs" fill="#262626" stroke="#262626" stroke-width="0.3">Apr</text>
<text x="125.04" y="391.00" font-size="8.91" text-anchor="middle" textLength="16.75" lengthAdjust="spacingAndGlyphs" fill="#262626" stroke="#262626" stroke-width="0.3">May</text>
<text x="142.35" y="391.00" font-size="8.91" text-anchor="middle" textLength="12.66" lengthAdjust="spacingAndGlyphs" fill="#262626" stroke="#262626" stroke-width="0.3">Jun</text>
<text x="159.65" y="391.00" font-size="8.91" text-anchor="middle" textLength="9.77" lengthAdjust="spacingAndGlyphs" fill="#262626" stroke="#262626" stroke-width="0.3">Jul</text>
<text x="176.96" y="391.00" font-size="8.91" text-anchor="middle" textLength="15.82" lengthAdjust="spacingAndGlyphs" fill="#262626" stroke="#262626" stroke-width="0.3">Aug</text>
<text x="194.27" y="391.00" font-size="8.91" text-anchor="middle" textLength="15.27" lengthAdjust="spacingAndGlyphs" fill="#262626" stroke="#262626" stroke-width="0.3">Sep</text>
<text x="211.58" y="391.00" font-size="8.91" text-anchor="middle" textLength="14.01" lengthAdjust="spacingAndGlyphs" fill="#262626" stroke="#262626" stroke-width="0.3">Oct</text>
<text x="228.89" y="391.00" font-size="8.91" text-anchor="middle" textLength="15.81" lengthAdjust="spacingAndGlyphs" fill="#262626" stroke="#262626" stroke-width="0.3">Nov</text>
<text x="246.20" y="391.00" font-size="8.91" text-anchor="middle" textLength="15.67" lengthAdjust="spacingAndGlyphs" fill="#262626" stroke="#262626" stroke-width="0.3">Dec</text>
<rect x="76.74" y="395.70" width="149.13" height="8.10" fill="url(#gd1)"/>
<path d="M77.94,395.70L76.74,395.70L69.34,399.75L76.74,403.80L77.94,403.80Z" fill="#f0edeb"/>
<path d="M224.66,395.70L225.86,395.70L233.26,399.75L225.86,403.80L224.66,403.80Z" fill="#500c1e"/>
<path d="M76.74,395.70L69.34,399.75L76.74,403.80L225.86,403.80L233.26,399.75L225.86,395.70Z" fill="none" stroke="#2a2a2a" stroke-width="0.8"/>
<text x="76.74" y="415.10" font-size="8.91" text-anchor="middle" textLength="20.61" lengthAdjust="spacingAndGlyphs" fill="#262626" stroke="#262626" stroke-width="0.3">4000</text>
<text x="126.45" y="415.10" font-size="8.91" text-anchor="middle" textLength="20.61" lengthAdjust="spacingAndGlyphs" fill="#262626" stroke="#262626" stroke-width="0.3">6000</text>
<text x="176.15" y="415.10" font-size="8.91" text-anchor="middle" textLength="20.61" lengthAdjust="spacingAndGlyphs" fill="#262626" stroke="#262626" stroke-width="0.3">8000</text>
<text x="225.86" y="415.10" font-size="8.91" text-anchor="middle" textLength="25.77" lengthAdjust="spacingAndGlyphs" fill="#262626" stroke="#262626" stroke-width="0.3">10000</text>
<path d="M76.74,403.80V406.00M126.45,403.80V406.00M176.15,403.80V406.00M225.86,403.80V406.00" stroke="#2a2a2a" stroke-width="0.8" fill="none"/>
<text x="151.30" y="425.40" font-size="9.19" text-anchor="middle" textLength="95.67" lengthAdjust="spacingAndGlyphs" fill="#262626" stroke="#262626" stroke-width="0.3">Anticyclone population</text>
<rect x="261.20" y="325.45" width="17.95" height="14.25" fill="#b94a37"/>
<rect x="278.55" y="325.45" width="17.95" height="14.25" fill="#bb503a"/>
<rect x="295.90" y="325.45" width="17.95" height="14.25" fill="#a1262d"/>
<rect x="313.25" y="325.45" width="17.95" height="14.25" fill="#941e2e"/>
<rect x="330.60" y="325.45" width="17.95" height="14.25" fill="#78142c"/>
<rect x="347.95" y="325.45" width="17.95" height="14.25" fill="#8d1b2d"/>
<rect x="365.30" y="325.45" width="17.95" height="14.25" fill="#ae322a"/>
<rect x="382.65" y="325.45" width="17.95" height="14.25" fill="#b94a37"/>
<rect x="400.00" y="325.45" width="17.95" height="14.25" fill="#bf5e46"/>
<rect x="417.35" y="325.45" width="17.95" height="14.25" fill="#c1664e"/>
<rect x="434.70" y="325.45" width="17.95" height="14.25" fill="#c1664e"/>
<rect x="452.05" y="325.45" width="17.35" height="14.25" fill="#b74534"/>
<rect x="261.20" y="339.10" width="17.95" height="14.25" fill="#bf5e46"/>
<rect x="278.55" y="339.10" width="17.95" height="14.25" fill="#bf5e46"/>
<rect x="295.90" y="339.10" width="17.95" height="14.25" fill="#b0342a"/>
<rect x="313.25" y="339.10" width="17.95" height="14.25" fill="#9d222e"/>
<rect x="330.60" y="339.10" width="17.95" height="14.25" fill="#82182d"/>
<rect x="347.95" y="339.10" width="17.95" height="14.25" fill="#8d1b2d"/>
<rect x="365.30" y="339.10" width="17.95" height="14.25" fill="#ae322a"/>
<rect x="382.65" y="339.10" width="17.95" height="14.25" fill="#b94a37"/>
<rect x="400.00" y="339.10" width="17.95" height="14.25" fill="#bf5e46"/>
<rect x="417.35" y="339.10" width="17.95" height="14.25" fill="#c26950"/>
<rect x="434.70" y="339.10" width="17.95" height="14.25" fill="#c46f56"/>
<rect x="452.05" y="339.10" width="17.35" height="14.25" fill="#bf5e46"/>
<rect x="261.20" y="352.75" width="17.95" height="14.25" fill="#bb503a"/>
<rect x="278.55" y="352.75" width="17.95" height="14.25" fill="#b43f30"/>
<rect x="295.90" y="352.75" width="17.95" height="14.25" fill="#7f162c"/>
<rect x="313.25" y="352.75" width="17.95" height="14.25" fill="#701229"/>
<rect x="330.60" y="352.75" width="17.95" height="14.25" fill="#600f24"/>
<rect x="347.95" y="352.75" width="17.95" height="14.25" fill="#701229"/>
<rect x="365.30" y="352.75" width="17.95" height="14.25" fill="#981f2e"/>
<rect x="382.65" y="352.75" width="17.95" height="14.25" fill="#a82c2c"/>
<rect x="400.00" y="352.75" width="17.95" height="14.25" fill="#b84835"/>
<rect x="417.35" y="352.75" width="17.95" height="14.25" fill="#bb503a"/>
<rect x="434.70" y="352.75" width="17.95" height="14.25" fill="#c1644b"/>
<rect x="452.05" y="352.75" width="17.35" height="14.25" fill="#be5b44"/>
<rect x="261.20" y="366.40" width="17.95" height="13.65" fill="#c77a63"/>
<rect x="278.55" y="366.40" width="17.95" height="13.65" fill="#c36c53"/>
<rect x="295.90" y="366.40" width="17.95" height="13.65" fill="#b23a2d"/>
<rect x="313.25" y="366.40" width="17.95" height="13.65" fill="#ae322a"/>
<rect x="330.60" y="366.40" width="17.95" height="13.65" fill="#981f2e"/>
<rect x="347.95" y="366.40" width="17.95" height="13.65" fill="#a62a2c"/>
<rect x="365.30" y="366.40" width="17.95" height="13.65" fill="#b74534"/>
<rect x="382.65" y="366.40" width="17.95" height="13.65" fill="#bf5e46"/>
<rect x="400.00" y="366.40" width="17.95" height="13.65" fill="#c46f56"/>
<rect x="417.35" y="366.40" width="17.95" height="13.65" fill="#c77a63"/>
<rect x="434.70" y="366.40" width="17.95" height="13.65" fill="#c9826d"/>
<rect x="452.05" y="366.40" width="17.35" height="13.65" fill="#c77a63"/>
<path d="M261.20,325.05V380.05H469.40V325.05" fill="none" stroke="#2a2a2a" stroke-width="0.8"/>
<path d="M260.80,325.45H469.80" fill="none" stroke="#3a3a3a" stroke-width="0.8"/>
<path d="M258.80,332.27H261.20M258.80,345.93H261.20M258.80,359.57H261.20M258.80,373.22H261.20M269.88,380.05V382.45M287.22,380.05V382.45M304.57,380.05V382.45M321.92,380.05V382.45M339.27,380.05V382.45M356.62,380.05V382.45M373.97,380.05V382.45M391.32,380.05V382.45M408.67,380.05V382.45M426.02,380.05V382.45M443.38,380.05V382.45M460.72,380.05V382.45" stroke="#2a2a2a" stroke-width="0.8" fill="none"/>
<text x="269.88" y="391.00" font-size="8.91" text-anchor="middle" textLength="12.49" lengthAdjust="spacingAndGlyphs" fill="#262626" stroke="#262626" stroke-width="0.3">Jan</text>
<text x="287.22" y="391.00" font-size="8.91" text-anchor="middle" textLength="14.34" lengthAdjust="spacingAndGlyphs" fill="#262626" stroke="#262626" stroke-width="0.3">Feb</text>
<text x="304.57" y="391.00" font-size="8.91" text-anchor="middle" textLength="15.28" lengthAdjust="spacingAndGlyphs" fill="#262626" stroke="#262626" stroke-width="0.3">Mar</text>
<text x="321.92" y="391.00" font-size="8.91" text-anchor="middle" textLength="14.01" lengthAdjust="spacingAndGlyphs" fill="#262626" stroke="#262626" stroke-width="0.3">Apr</text>
<text x="339.27" y="391.00" font-size="8.91" text-anchor="middle" textLength="16.75" lengthAdjust="spacingAndGlyphs" fill="#262626" stroke="#262626" stroke-width="0.3">May</text>
<text x="356.62" y="391.00" font-size="8.91" text-anchor="middle" textLength="12.66" lengthAdjust="spacingAndGlyphs" fill="#262626" stroke="#262626" stroke-width="0.3">Jun</text>
<text x="373.97" y="391.00" font-size="8.91" text-anchor="middle" textLength="9.77" lengthAdjust="spacingAndGlyphs" fill="#262626" stroke="#262626" stroke-width="0.3">Jul</text>
<text x="391.32" y="391.00" font-size="8.91" text-anchor="middle" textLength="15.82" lengthAdjust="spacingAndGlyphs" fill="#262626" stroke="#262626" stroke-width="0.3">Aug</text>
<text x="408.67" y="391.00" font-size="8.91" text-anchor="middle" textLength="15.27" lengthAdjust="spacingAndGlyphs" fill="#262626" stroke="#262626" stroke-width="0.3">Sep</text>
<text x="426.02" y="391.00" font-size="8.91" text-anchor="middle" textLength="14.01" lengthAdjust="spacingAndGlyphs" fill="#262626" stroke="#262626" stroke-width="0.3">Oct</text>
<text x="443.38" y="391.00" font-size="8.91" text-anchor="middle" textLength="15.81" lengthAdjust="spacingAndGlyphs" fill="#262626" stroke="#262626" stroke-width="0.3">Nov</text>
<text x="460.72" y="391.00" font-size="8.91" text-anchor="middle" textLength="15.67" lengthAdjust="spacingAndGlyphs" fill="#262626" stroke="#262626" stroke-width="0.3">Dec</text>
<rect x="290.56" y="395.70" width="149.49" height="8.10" fill="url(#gd2)"/>
<path d="M291.76,395.70L290.56,395.70L283.16,399.75L290.56,403.80L291.76,403.80Z" fill="#f0edeb"/>
<path d="M438.84,395.70L440.04,395.70L447.44,399.75L440.04,403.80L438.84,403.80Z" fill="#500c1e"/>
<path d="M290.56,395.70L283.16,399.75L290.56,403.80L440.04,403.80L447.44,399.75L440.04,395.70Z" fill="none" stroke="#2a2a2a" stroke-width="0.8"/>
<text x="290.56" y="415.10" font-size="8.91" text-anchor="middle" textLength="20.61" lengthAdjust="spacingAndGlyphs" fill="#262626" stroke="#262626" stroke-width="0.3">4000</text>
<text x="340.39" y="415.10" font-size="8.91" text-anchor="middle" textLength="20.61" lengthAdjust="spacingAndGlyphs" fill="#262626" stroke="#262626" stroke-width="0.3">6000</text>
<text x="390.21" y="415.10" font-size="8.91" text-anchor="middle" textLength="20.61" lengthAdjust="spacingAndGlyphs" fill="#262626" stroke="#262626" stroke-width="0.3">8000</text>
<text x="440.04" y="415.10" font-size="8.91" text-anchor="middle" textLength="25.77" lengthAdjust="spacingAndGlyphs" fill="#262626" stroke="#262626" stroke-width="0.3">10000</text>
<path d="M290.56,403.80V406.00M340.39,403.80V406.00M390.21,403.80V406.00M440.04,403.80V406.00" stroke="#2a2a2a" stroke-width="0.8" fill="none"/>
<text x="365.30" y="425.40" font-size="9.19" text-anchor="middle" textLength="95.67" lengthAdjust="spacingAndGlyphs" fill="#262626" stroke="#262626" stroke-width="0.3">Anticyclone population</text>
<rect x="475.70" y="325.45" width="17.91" height="14.25" fill="#c8785f"/>
<rect x="493.01" y="325.45" width="17.91" height="14.25" fill="#d8ac9d"/>
<rect x="510.32" y="325.45" width="17.91" height="14.25" fill="#d7aa9a"/>
<rect x="527.62" y="325.45" width="17.91" height="14.25" fill="#c26449"/>
<rect x="544.93" y="325.45" width="17.91" height="14.25" fill="#a4232d"/>
<rect x="562.24" y="325.45" width="17.91" height="14.25" fill="#79132c"/>
<rect x="579.55" y="325.45" width="17.91" height="14.25" fill="#9c1e2e"/>
<rect x="596.86" y="325.45" width="17.91" height="14.25" fill="#a4232d"/>
<rect x="614.17" y="325.45" width="17.91" height="14.25" fill="#a4232d"/>
<rect x="631.48" y="325.45" width="17.91" height="14.25" fill="#b3392e"/>
<rect x="648.78" y="325.45" width="17.91" height="14.25" fill="#b0342d"/>
<rect x="666.09" y="325.45" width="17.31" height="14.25" fill="#af322d"/>
<rect x="475.70" y="339.10" width="17.91" height="14.25" fill="#c8785f"/>
<rect x="493.01" y="339.10" width="17.91" height="14.25" fill="#d09480"/>
<rect x="510.32" y="339.10" width="17.91" height="14.25" fill="#d09480"/>
<rect x="527.62" y="339.10" width="17.91" height="14.25" fill="#c46d53"/>
<rect x="544.93" y="339.10" width="17.91" height="14.25" fill="#b3392e"/>
<rect x="562.24" y="339.10" width="17.91" height="14.25" fill="#8e172e"/>
<rect x="579.55" y="339.10" width="17.91" height="14.25" fill="#a4232d"/>
<rect x="596.86" y="339.10" width="17.91" height="14.25" fill="#a4232d"/>
<rect x="614.17" y="339.10" width="17.91" height="14.25" fill="#ab2b2c"/>
<rect x="631.48" y="339.10" width="17.91" height="14.25" fill="#b63e2e"/>
<rect x="648.78" y="339.10" width="17.91" height="14.25" fill="#b94733"/>
<rect x="666.09" y="339.10" width="17.31" height="14.25" fill="#bb5039"/>
<rect x="475.70" y="352.75" width="17.91" height="14.25" fill="#ce8e79"/>
<rect x="493.01" y="352.75" width="17.91" height="14.25" fill="#ce8e79"/>
<rect x="510.32" y="352.75" width="17.91" height="14.25" fill="#c8785f"/>
<rect x="527.62" y="352.75" width="17.91" height="14.25" fill="#bf5c40"/>
<rect x="544.93" y="352.75" width="17.91" height="14.25" fill="#b3392e"/>
<rect x="562.24" y="352.75" width="17.91" height="14.25" fill="#9c1e2e"/>
<rect x="579.55" y="352.75" width="17.91" height="14.25" fill="#b3392e"/>
<rect x="596.86" y="352.75" width="17.91" height="14.25" fill="#b3392e"/>
<rect x="614.17" y="352.75" width="17.91" height="14.25" fill="#b84432"/>
<rect x="631.48" y="352.75" width="17.91" height="14.25" fill="#b84432"/>
<rect x="648.78" y="352.75" width="17.91" height="14.25" fill="#c46a50"/>
<rect x="666.09" y="352.75" width="17.31" height="14.25" fill="#c46a50"/>
<rect x="475.70" y="366.40" width="17.91" height="13.65" fill="#d09480"/>
<rect x="493.01" y="366.40" width="17.91" height="13.65" fill="#d6a796"/>
<rect x="510.32" y="366.40" width="17.91" height="13.65" fill="#cd8973"/>
<rect x="527.62" y="366.40" width="17.91" height="13.65" fill="#ca8069"/>
<rect x="544.93" y="366.40" width="17.91" height="13.65" fill="#bd563c"/>
<rect x="562.24" y="366.40" width="17.91" height="13.65" fill="#bd563c"/>
<rect x="579.55" y="366.40" width="17.91" height="13.65" fill="#c16246"/>
<rect x="596.86" y="366.40" width="17.91" height="13.65" fill="#c8785f"/>
<rect x="614.17" y="366.40" width="17.91" height="13.65" fill="#c97b62"/>
<rect x="631.48" y="366.40" width="17.91" height="13.65" fill="#ca8069"/>
<rect x="648.78" y="366.40" width="17.91" height="13.65" fill="#c97b62"/>
<rect x="666.09" y="366.40" width="17.31" height="13.65" fill="#c8785f"/>
<path d="M475.70,325.05V380.05H683.40V325.05" fill="none" stroke="#2a2a2a" stroke-width="0.8"/>
<path d="M475.30,325.45H683.80" fill="none" stroke="#3a3a3a" stroke-width="0.8"/>
<path d="M473.30,332.27H475.70M473.30,345.93H475.70M473.30,359.57H475.70M473.30,373.22H475.70M484.35,380.05V382.45M501.66,380.05V382.45M518.97,380.05V382.45M536.28,380.05V382.45M553.59,380.05V382.45M570.90,380.05V382.45M588.20,380.05V382.45M605.51,380.05V382.45M622.82,380.05V382.45M640.13,380.05V382.45M657.44,380.05V382.45M674.75,380.05V382.45" stroke="#2a2a2a" stroke-width="0.8" fill="none"/>
<text x="484.35" y="391.00" font-size="8.91" text-anchor="middle" textLength="12.49" lengthAdjust="spacingAndGlyphs" fill="#262626" stroke="#262626" stroke-width="0.3">Jan</text>
<text x="501.66" y="391.00" font-size="8.91" text-anchor="middle" textLength="14.34" lengthAdjust="spacingAndGlyphs" fill="#262626" stroke="#262626" stroke-width="0.3">Feb</text>
<text x="518.97" y="391.00" font-size="8.91" text-anchor="middle" textLength="15.28" lengthAdjust="spacingAndGlyphs" fill="#262626" stroke="#262626" stroke-width="0.3">Mar</text>
<text x="536.28" y="391.00" font-size="8.91" text-anchor="middle" textLength="14.01" lengthAdjust="spacingAndGlyphs" fill="#262626" stroke="#262626" stroke-width="0.3">Apr</text>
<text x="553.59" y="391.00" font-size="8.91" text-anchor="middle" textLength="16.75" lengthAdjust="spacingAndGlyphs" fill="#262626" stroke="#262626" stroke-width="0.3">May</text>
<text x="570.90" y="391.00" font-size="8.91" text-anchor="middle" textLength="12.66" lengthAdjust="spacingAndGlyphs" fill="#262626" stroke="#262626" stroke-width="0.3">Jun</text>
<text x="588.20" y="391.00" font-size="8.91" text-anchor="middle" textLength="9.77" lengthAdjust="spacingAndGlyphs" fill="#262626" stroke="#262626" stroke-width="0.3">Jul</text>
<text x="605.51" y="391.00" font-size="8.91" text-anchor="middle" textLength="15.82" lengthAdjust="spacingAndGlyphs" fill="#262626" stroke="#262626" stroke-width="0.3">Aug</text>
<text x="622.82" y="391.00" font-size="8.91" text-anchor="middle" textLength="15.27" lengthAdjust="spacingAndGlyphs" fill="#262626" stroke="#262626" stroke-width="0.3">Sep</text>
<text x="640.13" y="391.00" font-size="8.91" text-anchor="middle" textLength="14.01" lengthAdjust="spacingAndGlyphs" fill="#262626" stroke="#262626" stroke-width="0.3">Oct</text>
<text x="657.44" y="391.00" font-size="8.91" text-anchor="middle" textLength="15.81" lengthAdjust="spacingAndGlyphs" fill="#262626" stroke="#262626" stroke-width="0.3">Nov</text>
<text x="674.75" y="391.00" font-size="8.91" text-anchor="middle" textLength="15.67" lengthAdjust="spacingAndGlyphs" fill="#262626" stroke="#262626" stroke-width="0.3">Dec</text>
<rect x="505.49" y="395.70" width="149.13" height="8.10" fill="url(#gd3)"/>
<path d="M506.69,395.70L505.49,395.70L498.09,399.75L505.49,403.80L506.69,403.80Z" fill="#1e245a"/>
<path d="M653.41,395.70L654.61,395.70L662.01,399.75L654.61,403.80L653.41,403.80Z" fill="#500c1e"/>
<path d="M505.49,395.70L498.09,399.75L505.49,403.80L654.61,403.80L662.01,399.75L654.61,395.70Z" fill="none" stroke="#2a2a2a" stroke-width="0.8"/>
<text x="530.34" y="415.10" font-size="8.91" text-anchor="middle" textLength="27.40" lengthAdjust="spacingAndGlyphs" fill="#262626" stroke="#262626" stroke-width="0.3">−2000</text>
<text x="580.05" y="415.10" font-size="8.91" text-anchor="middle" textLength="5.15" lengthAdjust="spacingAndGlyphs" fill="#262626" stroke="#262626" stroke-width="0.3">0</text>
<text x="629.76" y="415.10" font-size="8.91" text-anchor="middle" textLength="20.61" lengthAdjust="spacingAndGlyphs" fill="#262626" stroke="#262626" stroke-width="0.3">2000</text>
<path d="M530.34,403.80V406.00M580.05,403.80V406.00M629.76,403.80V406.00" stroke="#2a2a2a" stroke-width="0.8" fill="none"/>
<text x="580.05" y="425.40" font-size="9.19" text-anchor="middle" textLength="104.03" lengthAdjust="spacingAndGlyphs" fill="#262626" stroke="#262626" stroke-width="0.3">Δ Anticyclone population</text>
<text x="6.00" y="327.25" font-size="13.09" text-anchor="start" textLength="8.52" lengthAdjust="spacingAndGlyphs" fill="#000" font-weight="bold" stroke="#000" stroke-width="0.45">d</text>
<text x="151.00" y="10.65" font-size="13.09" text-anchor="middle" textLength="64.87" lengthAdjust="spacingAndGlyphs" fill="#262626" stroke="#262626" stroke-width="0.3">1951-1956</text>
<text x="365.30" y="10.65" font-size="13.09" text-anchor="middle" textLength="64.87" lengthAdjust="spacingAndGlyphs" fill="#262626" stroke="#262626" stroke-width="0.3">2091-2096</text>
<text x="579.55" y="10.65" font-size="13.09" text-anchor="middle" textLength="45.56" lengthAdjust="spacingAndGlyphs" fill="#262626" stroke="#262626" stroke-width="0.3">Change</text>
</svg>
</body></html>
